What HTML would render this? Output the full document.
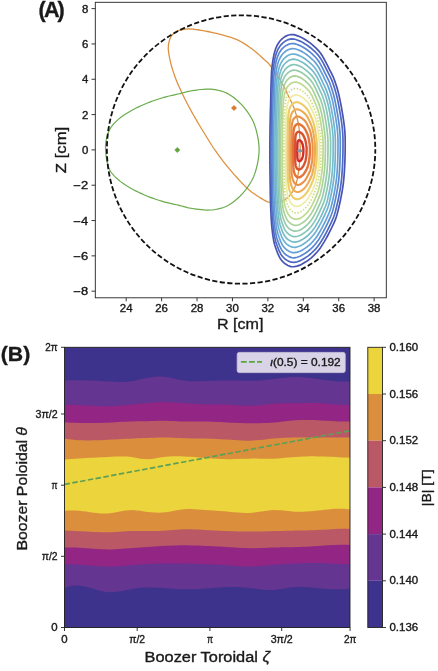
<!DOCTYPE html>
<html><head><meta charset="utf-8"><style>
html,body{margin:0;padding:0;background:#fff;}
svg{display:block;will-change:transform;}
</style></head><body>
<svg width="438" height="671" viewBox="0 0 438 671">
<rect width="438" height="671" fill="#fff"/>
<!-- Panel A -->
<path d="M169.3 41L169.48 40.4L169.67 39.8L169.88 39.2L170.1 38.61L170.34 38.03L170.6 37.47L170.89 36.92L171.2 36.4L171.54 35.89L171.91 35.4L172.31 34.92L172.73 34.45L173.16 34L173.61 33.58L174.05 33.18L174.5 32.8L174.94 32.45L175.37 32.13L175.8 31.83L176.25 31.55L176.71 31.29L177.2 31.05L177.73 30.82L178.3 30.6L178.92 30.4L179.58 30.21L180.29 30.04L181.01 29.89L181.76 29.75L182.51 29.62L183.26 29.5L184 29.4L184.7 29.3L185.36 29.2L186 29.12L186.66 29.04L187.36 28.99L188.13 28.96L189 28.96L190 29L191.09 29.06L192.23 29.14L193.45 29.24L194.74 29.38L196.14 29.54L197.66 29.75L199.3 30L201.1 30.3L203.09 30.66L205.29 31.06L207.63 31.51L210.09 32L212.6 32.53L215.12 33.09L217.6 33.68L220 34.3L222.35 34.94L224.73 35.59L227.11 36.27L229.48 36.98L231.82 37.74L234.12 38.56L236.35 39.44L238.5 40.4L240.59 41.46L242.64 42.62L244.65 43.86L246.61 45.16L248.5 46.47L250.31 47.79L252.05 49.07L253.7 50.3L255.26 51.51L256.74 52.72L258.14 53.94L259.47 55.14L260.73 56.32L261.91 57.44L263.04 58.51L264.1 59.5L265.03 60.33L265.81 60.98L266.48 61.53L267.11 62.06L267.74 62.64L268.42 63.35L269.23 64.28L270.2 65.5L271.37 67.05L272.71 68.88L274.15 70.92L275.66 73.09L277.18 75.34L278.66 77.58L280.05 79.76L281.3 81.8L282.42 83.74L283.47 85.66L284.45 87.56L285.38 89.44L286.26 91.29L287.12 93.12L287.96 94.92L288.8 96.7L289.63 98.42L290.43 100.06L291.21 101.67L291.96 103.26L292.69 104.86L293.39 106.49L294.06 108.2L294.7 110L295.32 111.9L295.92 113.88L296.5 115.92L297.04 118.01L297.55 120.11L298.02 122.23L298.44 124.33L298.8 126.4L299.1 128.51L299.33 130.7L299.51 132.92L299.64 135.13L299.75 137.27L299.84 139.29L299.92 141.15L300 142.8L300.08 144.18L300.14 145.32L300.18 146.27L300.21 147.12L300.23 147.93L300.23 148.77L300.22 149.7L300.2 150.8L300.17 152.06L300.12 153.4L300.06 154.82L299.98 156.28L299.9 157.75L299.8 159.21L299.7 160.64L299.6 162L299.5 163.29L299.39 164.54L299.29 165.75L299.17 166.95L299.04 168.16L298.89 169.39L298.71 170.66L298.5 172L298.27 173.42L298.02 174.93L297.74 176.49L297.45 178.06L297.13 179.63L296.78 181.16L296.41 182.63L296 184L295.56 185.29L295.08 186.54L294.58 187.74L294.05 188.89L293.49 189.99L292.92 191.05L292.32 192.05L291.7 193L291.06 193.89L290.4 194.73L289.72 195.51L289.02 196.25L288.29 196.94L287.55 197.59L286.78 198.21L286 198.8L285.21 199.36L284.41 199.9L283.61 200.4L282.77 200.87L281.91 201.29L281 201.65L280.03 201.96L279 202.2L277.88 202.39L276.66 202.52L275.39 202.61L274.07 202.64L272.74 202.61L271.41 202.52L270.13 202.35L268.9 202.1L267.75 201.77L266.65 201.37L265.58 200.89L264.53 200.35L263.47 199.74L262.37 199.08L261.22 198.36L260 197.6L258.7 196.79L257.35 195.94L255.95 195.03L254.52 194.06L253.06 193.03L251.58 191.93L250.09 190.76L248.6 189.5L247.09 188.14L245.56 186.68L244 185.13L242.42 183.51L240.85 181.85L239.28 180.17L237.73 178.48L236.2 176.8L234.69 175.12L233.17 173.41L231.66 171.68L230.16 169.93L228.68 168.17L227.22 166.4L225.79 164.65L224.4 162.9L223.04 161.16L221.7 159.43L220.4 157.69L219.11 155.96L217.85 154.22L216.61 152.48L215.4 150.74L214.2 149L213.03 147.25L211.89 145.5L210.78 143.75L209.69 142L208.61 140.25L207.54 138.5L206.47 136.75L205.4 135L204.32 133.25L203.24 131.49L202.17 129.73L201.1 127.97L200.04 126.22L199.01 124.49L197.99 122.78L197 121.1L196.04 119.46L195.11 117.87L194.21 116.3L193.32 114.75L192.44 113.2L191.56 111.63L190.69 110.04L189.8 108.4L188.9 106.72L188 105.01L187.1 103.28L186.19 101.53L185.3 99.77L184.42 98.01L183.55 96.25L182.7 94.5L181.87 92.76L181.04 91.04L180.23 89.31L179.43 87.58L178.64 85.84L177.87 84.09L177.12 82.31L176.4 80.5L175.69 78.64L174.98 76.74L174.29 74.8L173.62 72.86L172.98 70.91L172.38 68.99L171.81 67.12L171.3 65.3L170.83 63.5L170.4 61.67L170 59.85L169.64 58.07L169.32 56.37L169.04 54.77L168.8 53.3L168.6 52L168.45 50.89L168.35 49.96L168.29 49.17L168.28 48.48L168.28 47.86L168.31 47.26L168.36 46.65L168.4 46L168.45 45.32L168.52 44.67L168.61 44.03L168.72 43.41L168.84 42.8L168.98 42.2L169.13 41.6Z" fill="none" stroke="#de9240" stroke-width="1.3"/>
<path d="M105.5 147.6L105.55 145.55L105.71 143.56L105.95 141.63L106.28 139.77L106.68 137.97L107.14 136.24L107.65 134.58L108.2 133L108.78 131.52L109.39 130.16L110.05 128.88L110.77 127.66L111.57 126.48L112.46 125.31L113.47 124.13L114.6 122.9L115.86 121.64L117.22 120.37L118.69 119.11L120.26 117.84L121.92 116.59L123.66 115.34L125.49 114.11L127.4 112.9L129.42 111.69L131.59 110.48L133.86 109.26L136.21 108.07L138.6 106.9L141 105.78L143.38 104.71L145.7 103.7L147.99 102.76L150.31 101.86L152.62 101.02L154.94 100.21L157.23 99.45L159.5 98.73L161.73 98.05L163.9 97.4L166.04 96.8L168.16 96.25L170.26 95.75L172.32 95.29L174.33 94.85L176.29 94.43L178.18 94.01L180 93.6L181.68 93.18L183.2 92.78L184.62 92.39L186 92.01L187.4 91.65L188.88 91.31L190.49 90.99L192.3 90.7L194.33 90.41L196.54 90.09L198.87 89.78L201.29 89.51L203.74 89.28L206.17 89.14L208.54 89.11L210.8 89.2L212.97 89.4L215.12 89.68L217.23 90.05L219.31 90.5L221.36 91.05L223.38 91.72L225.36 92.5L227.3 93.4L229.22 94.45L231.12 95.66L233 96.99L234.84 98.42L236.63 99.93L238.36 101.5L240.02 103.1L241.6 104.7L243.11 106.34L244.58 108.06L245.98 109.84L247.32 111.66L248.59 113.5L249.78 115.35L250.89 117.19L251.9 119L252.81 120.78L253.61 122.55L254.33 124.31L254.96 126.08L255.54 127.86L256.06 129.67L256.54 131.51L257 133.4L257.43 135.34L257.83 137.32L258.19 139.34L258.5 141.39L258.75 143.45L258.94 145.51L259.06 147.56L259.1 149.6L259.06 151.64L258.94 153.69L258.75 155.75L258.5 157.81L258.19 159.86L257.83 161.88L257.43 163.86L257 165.8L256.54 167.69L256.06 169.53L255.54 171.34L254.96 173.12L254.33 174.89L253.61 176.65L252.81 178.42L251.9 180.2L250.89 182.01L249.78 183.85L248.59 185.7L247.33 187.54L245.98 189.36L244.58 191.14L243.11 192.86L241.6 194.5L240.02 196.1L238.36 197.7L236.63 199.27L234.84 200.78L233 202.21L231.12 203.54L229.22 204.75L227.3 205.8L225.36 206.7L223.38 207.48L221.36 208.15L219.31 208.7L217.23 209.15L215.12 209.52L212.97 209.8L210.8 210L208.54 210.09L206.17 210.06L203.74 209.92L201.29 209.69L198.87 209.42L196.54 209.11L194.33 208.79L192.3 208.5L190.49 208.21L188.88 207.89L187.4 207.55L186 207.19L184.62 206.81L183.2 206.42L181.68 206.02L180 205.6L178.18 205.19L176.29 204.77L174.33 204.35L172.32 203.91L170.26 203.45L168.16 202.95L166.04 202.4L163.9 201.8L161.73 201.15L159.5 200.47L157.23 199.75L154.94 198.99L152.62 198.18L150.31 197.34L147.99 196.44L145.7 195.5L143.38 194.49L141 193.42L138.6 192.3L136.21 191.13L133.86 189.94L131.59 188.72L129.42 187.51L127.4 186.3L125.49 185.09L123.66 183.86L121.92 182.61L120.26 181.36L118.69 180.09L117.22 178.83L115.86 177.56L114.6 176.3L113.47 175.1L112.46 173.98L111.57 172.89L110.77 171.79L110.05 170.61L109.39 169.33L108.78 167.87L108.2 166.2L107.65 164.25L107.14 162.05L106.68 159.67L106.28 157.18L105.95 154.66L105.71 152.17L105.55 149.79Z" fill="none" stroke="#6aab4a" stroke-width="1.2"/>
<g fill="none" stroke-width="1.8" stroke-linejoin="round">
<path d="M269.9 150.7L269.94 149.91L269.89 149.12L269.86 148.33L269.85 147.53L269.86 146.73L269.89 145.93L269.94 145.13L269.93 144.31L269.89 143.47L269.87 142.63L269.88 141.78L269.91 140.92L269.96 140.06L269.97 139.17L269.93 138.24L269.91 137.31L269.93 136.36L269.97 135.4L270.05 134.44L270 133.38L269.98 132.3L270 131.21L270.05 130.11L270.1 128.98L270.06 127.73L270.07 126.46L270.12 125.18L270.16 123.83L270.15 122.37L270.19 120.89L270.23 119.33L270.24 117.65L270.32 115.95L270.33 114.06L270.41 112.14L270.44 110.01L270.51 107.8L270.6 105.42L270.67 102.83L270.74 100.03L270.8 96.92L270.83 93.45L270.91 89.72L271.03 85.64L271.18 81.11L271.34 76.03L271.63 70.59L272.22 65.22L273 59.56L274.08 53.97L275.57 48.94L277.47 44.72L279.71 41.25L282.26 38.69L284.98 36.61L287.86 35.22L290.86 34.51L293.92 34.68L296.99 35.6L300 36.8L302.97 38.24L305.84 39.97L308.62 41.87L311.3 43.93L313.87 46.1L316.32 48.35L318.64 50.79L320.79 53.57L322.75 56.58L324.53 59.77L326.18 62.93L327.72 65.97L329.17 68.89L330.57 71.6L331.92 74.18L333.13 76.79L334.21 79.48L335.17 82.16L336.04 84.77L336.85 87.32L337.57 89.81L338.23 92.23L338.83 94.59L339.35 96.9L339.83 99.15L340.27 101.31L340.68 103.39L341.07 105.4L341.42 107.35L341.76 109.23L342.07 111.05L342.37 112.81L342.66 114.51L342.93 116.17L343.19 117.79L343.43 119.36L343.66 120.9L343.86 122.41L344.04 123.9L344.22 125.35L344.38 126.77L344.53 128.17L344.66 129.54L344.79 130.9L344.89 132.23L344.98 133.55L345.05 134.86L345.1 136.15L345.14 137.42L345.17 138.68L345.18 139.93L345.19 141.16L345.2 142.38L345.19 143.59L345.2 144.79L345.19 145.98L345.19 147.17L345.18 148.35L345.17 149.53L345.16 150.7L345.13 151.87L345.12 153.05L345.09 154.22L345.06 155.4L345.03 156.59L344.99 157.78L344.96 158.98L344.92 160.18L344.87 161.4L344.83 162.63L344.77 163.87L344.72 165.13L344.66 166.41L344.59 167.7L344.52 169.02L344.45 170.35L344.36 171.71L344.26 173.1L344.16 174.51L344.05 175.96L343.93 177.43L343.79 178.94L343.63 180.48L343.46 182.06L343.27 183.67L343.05 185.32L342.8 187.01L342.54 188.74L342.26 190.52L341.94 192.35L341.6 194.23L341.23 196.18L340.84 198.19L340.43 200.28L339.98 202.45L339.49 204.68L338.95 206.98L338.36 209.37L337.73 211.85L337.04 214.42L336.26 217.03L335.36 219.63L334.32 222.15L333.16 224.66L331.93 227.25L330.63 229.94L329.24 232.69L327.75 235.52L326.17 238.44L324.47 241.41L322.64 244.37L320.7 247.4L318.59 250.3L316.3 252.94L313.88 255.43L311.33 257.79L308.66 259.95L305.86 261.84L302.98 263.59L300 265.15L296.98 266.17L293.92 266.76L290.88 266.59L287.94 265.47L285.11 263.78L282.47 261.41L280.07 258.24L278.01 254.13L276.28 249.51L274.74 244.97L273.56 239.97L272.74 234.58L272.11 229.45L271.63 224.6L271.28 220.03L271.06 215.7L270.89 211.72L270.74 208.13L270.59 204.87L270.49 201.82L270.41 198.99L270.35 196.35L270.31 193.9L270.28 191.6L270.23 189.5L270.22 187.48L270.17 185.62L270.18 183.82L270.12 182.19L270.13 180.57L270.09 179.08L270.06 177.66L270.08 176.26L270.06 174.95L270 173.72L269.99 172.5L270.03 171.3L270.01 170.18L269.95 169.11L269.93 168.06L269.94 167.02L269.99 165.99L269.96 165.03L269.91 164.1L269.88 163.18L269.88 162.26L269.91 161.35L269.97 160.46L269.91 159.61L269.87 158.77L269.85 157.94L269.85 157.11L269.88 156.28L269.92 155.46L269.91 154.66L269.87 153.87L269.84 153.07L269.84 152.28L269.86 151.49Z" stroke="#4854b2" stroke-width="1.7"/><path d="M271.03 150.7L271.08 149.94L271.03 149.18L271 148.42L270.99 147.65L271 146.88L271.03 146.11L271.08 145.34L271.06 144.55L271.02 143.74L271.01 142.93L271.01 142.11L271.04 141.29L271.1 140.47L271.11 139.61L271.06 138.71L271.05 137.81L271.06 136.9L271.11 135.98L271.18 135.05L271.14 134.04L271.11 133L271.13 131.95L271.18 130.89L271.23 129.8L271.19 128.6L271.2 127.38L271.25 126.15L271.29 124.85L271.27 123.44L271.32 122.02L271.36 120.52L271.37 118.9L271.44 117.26L271.45 115.44L271.53 113.59L271.56 111.55L271.63 109.42L271.71 107.13L271.77 104.64L271.85 101.94L271.9 98.95L271.93 95.61L272.01 92.02L272.13 88.1L272.26 83.74L272.42 78.85L272.7 73.61L273.27 68.44L274.02 63L275.06 57.62L276.49 52.78L278.32 48.72L280.48 45.38L282.93 42.92L285.55 40.92L288.32 39.58L291.2 38.9L294.15 39.06L297.1 39.94L300 41.1L302.82 42.49L305.56 44.15L308.2 45.98L310.75 47.96L313.19 50.05L315.53 52.21L317.74 54.57L319.78 57.24L321.64 60.13L323.34 63.21L324.9 66.24L326.37 69.17L327.75 71.98L329.08 74.59L330.36 77.07L331.52 79.58L332.54 82.17L333.45 84.74L334.29 87.26L335.05 89.71L335.74 92.11L336.37 94.44L336.94 96.71L337.44 98.93L337.89 101.1L338.31 103.18L338.7 105.18L339.07 107.11L339.41 108.99L339.73 110.79L340.03 112.54L340.31 114.24L340.59 115.88L340.84 117.47L341.09 119.03L341.32 120.54L341.53 122.03L341.72 123.48L341.89 124.91L342.06 126.3L342.22 127.67L342.36 129.02L342.49 130.34L342.61 131.64L342.7 132.93L342.79 134.2L342.86 135.45L342.91 136.7L342.94 137.92L342.97 139.13L342.98 140.33L342.99 141.52L343 142.69L342.99 143.86L343 145.01L342.99 146.16L342.99 147.3L342.99 148.44L342.97 149.57L342.96 150.7L342.93 151.83L342.92 152.96L342.89 154.09L342.86 155.23L342.84 156.37L342.8 157.51L342.77 158.66L342.73 159.82L342.69 160.99L342.65 162.18L342.59 163.37L342.54 164.59L342.49 165.81L342.42 167.06L342.36 168.33L342.28 169.61L342.2 170.92L342.11 172.25L342.01 173.62L341.91 175.01L341.79 176.42L341.66 177.88L341.51 179.36L341.35 180.88L341.16 182.43L340.95 184.01L340.72 185.64L340.47 187.3L340.2 189.02L339.9 190.78L339.57 192.59L339.23 194.46L338.85 196.4L338.46 198.41L338.04 200.49L337.57 202.64L337.05 204.86L336.5 207.15L335.9 209.54L335.24 212.01L334.5 214.53L333.64 217.02L332.65 219.45L331.54 221.87L330.37 224.36L329.14 226.95L327.81 229.6L326.4 232.32L324.89 235.13L323.28 237.98L321.54 240.84L319.69 243.75L317.68 246.54L315.51 249.08L313.21 251.47L310.78 253.75L308.24 255.83L305.58 257.65L302.83 259.33L300 260.83L297.09 261.81L294.15 262.38L291.22 262.22L288.39 261.14L285.68 259.51L283.13 257.23L280.82 254.18L278.84 250.23L277.17 245.78L275.69 241.41L274.56 236.6L273.77 231.42L273.17 226.47L272.7 221.81L272.37 217.42L272.15 213.25L271.99 209.42L271.84 205.97L271.7 202.82L271.6 199.89L271.53 197.16L271.47 194.63L271.43 192.26L271.4 190.06L271.35 188.03L271.34 186.09L271.3 184.31L271.3 182.57L271.25 181L271.26 179.44L271.22 178.01L271.19 176.64L271.21 175.29L271.19 174.03L271.14 172.85L271.13 171.68L271.16 170.52L271.14 169.44L271.09 168.42L271.06 167.41L271.08 166.4L271.12 165.42L271.09 164.49L271.04 163.59L271.02 162.7L271.02 161.82L271.05 160.95L271.1 160.09L271.05 159.28L271.01 158.47L270.99 157.67L270.99 156.87L271.01 156.07L271.06 155.28L271.05 154.51L271.01 153.75L270.98 152.98L270.98 152.22L271 151.46Z" stroke="#4e69c3" stroke-width="1.7"/><path d="M272.22 150.7L272.26 149.97L272.21 149.24L272.19 148.51L272.18 147.78L272.19 147.04L272.22 146.3L272.27 145.56L272.25 144.8L272.21 144.03L272.2 143.25L272.2 142.47L272.23 141.68L272.28 140.89L272.29 140.06L272.25 139.21L272.24 138.34L272.25 137.47L272.29 136.58L272.36 135.69L272.32 134.72L272.3 133.73L272.31 132.72L272.36 131.7L272.41 130.66L272.38 129.5L272.38 128.34L272.43 127.15L272.47 125.91L272.45 124.56L272.49 123.19L272.53 121.76L272.54 120.2L272.61 118.63L272.62 116.89L272.7 115.12L272.72 113.16L272.79 111.11L272.87 108.92L272.93 106.53L273 103.94L273.05 101.07L273.08 97.87L273.16 94.43L273.27 90.67L273.4 86.49L273.55 81.8L273.82 76.78L274.37 71.82L275.09 66.6L276.08 61.44L277.46 56.8L279.21 52.9L281.28 49.7L283.63 47.35L286.14 45.43L288.8 44.14L291.56 43.49L294.39 43.64L297.22 44.49L300 45.6L302.64 46.93L305.21 48.53L307.69 50.28L310.07 52.18L312.36 54.18L314.55 56.26L316.62 58.51L318.53 61.07L320.29 63.85L321.87 66.8L323.34 69.71L324.71 72.52L326.01 75.21L327.26 77.71L328.46 80.09L329.54 82.5L330.5 84.98L331.35 87.45L332.14 89.87L332.85 92.22L333.5 94.51L334.09 96.75L334.62 98.93L335.09 101.06L335.51 103.13L335.9 105.13L336.27 107.05L336.62 108.9L336.93 110.7L337.23 112.43L337.51 114.11L337.78 115.73L338.04 117.31L338.28 118.84L338.51 120.33L338.73 121.78L338.92 123.2L339.1 124.6L339.26 125.97L339.42 127.31L339.57 128.62L339.7 129.91L339.82 131.18L339.93 132.43L340.02 133.66L340.1 134.88L340.17 136.08L340.21 137.27L340.25 138.45L340.27 139.61L340.28 140.76L340.29 141.9L340.3 143.02L340.29 144.14L340.3 145.25L340.29 146.35L340.29 147.44L340.29 148.53L340.27 149.62L340.26 150.7L340.24 151.78L340.22 152.87L340.2 153.95L340.17 155.04L340.15 156.13L340.11 157.23L340.08 158.34L340.05 159.45L340.01 160.57L339.97 161.71L339.92 162.85L339.87 164.02L339.82 165.19L339.76 166.39L339.7 167.6L339.63 168.84L339.55 170.09L339.46 171.37L339.38 172.67L339.28 174.01L339.16 175.37L339.04 176.76L338.9 178.18L338.75 179.64L338.58 181.12L338.38 182.65L338.16 184.2L337.93 185.8L337.67 187.45L337.39 189.14L337.09 190.87L336.76 192.67L336.41 194.52L336.04 196.45L335.65 198.45L335.21 200.51L334.72 202.63L334.2 204.84L333.64 207.13L333.03 209.49L332.33 211.91L331.53 214.3L330.6 216.63L329.56 218.95L328.47 221.34L327.31 223.82L326.07 226.36L324.74 228.97L323.33 231.66L321.82 234.4L320.19 237.14L318.45 239.93L316.57 242.6L314.54 245.04L312.38 247.34L310.1 249.52L307.72 251.51L305.23 253.25L302.65 254.87L300 256.31L297.21 257.24L294.39 257.8L291.58 257.64L288.87 256.6L286.26 255.04L283.82 252.85L281.61 249.94L279.71 246.14L278.11 241.88L276.69 237.69L275.6 233.07L274.85 228.1L274.27 223.36L273.82 218.89L273.5 214.68L273.29 210.68L273.14 207.01L273 203.7L272.86 200.68L272.77 197.87L272.7 195.26L272.64 192.82L272.61 190.56L272.58 188.44L272.53 186.5L272.52 184.64L272.48 182.93L272.48 181.26L272.43 179.75L272.44 178.26L272.4 176.89L272.37 175.58L272.39 174.28L272.37 173.08L272.32 171.94L272.31 170.82L272.34 169.71L272.32 168.67L272.27 167.69L272.25 166.72L272.26 165.76L272.31 164.81L272.28 163.92L272.23 163.06L272.21 162.21L272.21 161.37L272.24 160.53L272.29 159.7L272.24 158.92L272.2 158.15L272.18 157.38L272.18 156.61L272.2 155.85L272.25 155.1L272.24 154.35L272.2 153.62L272.17 152.89L272.17 152.16L272.19 151.43Z" stroke="#5a87d2" stroke-width="1.7"/><path d="M273.54 150.7L273.58 150.01L273.54 149.31L273.51 148.62L273.5 147.91L273.51 147.21L273.54 146.51L273.59 145.8L273.57 145.08L273.53 144.35L273.52 143.6L273.53 142.86L273.55 142.11L273.6 141.35L273.61 140.57L273.57 139.75L273.56 138.93L273.57 138.09L273.61 137.25L273.67 136.41L273.64 135.48L273.62 134.53L273.63 133.58L273.68 132.61L273.72 131.61L273.69 130.51L273.7 129.4L273.74 128.27L273.78 127.09L273.76 125.8L273.8 124.5L273.84 123.13L273.85 121.66L273.92 120.16L273.92 118.5L273.99 116.81L274.02 114.94L274.09 113L274.16 110.91L274.22 108.63L274.29 106.17L274.34 103.43L274.36 100.39L274.44 97.11L274.54 93.53L274.67 89.54L274.81 85.08L275.07 80.29L275.59 75.57L276.27 70.6L277.22 65.69L278.53 61.27L280.2 57.56L282.17 54.51L284.41 52.26L286.8 50.43L289.33 49.21L291.96 48.59L294.66 48.73L297.35 49.54L300 50.6L302.49 51.87L304.91 53.39L307.25 55.06L309.5 56.87L311.66 58.78L313.72 60.75L315.67 62.9L317.48 65.34L319.13 67.98L320.62 70.79L322.01 73.57L323.3 76.24L324.52 78.8L325.7 81.19L326.83 83.45L327.86 85.74L328.76 88.11L329.56 90.46L330.3 92.76L330.98 95L331.59 97.18L332.14 99.32L332.64 101.39L333.09 103.42L333.48 105.4L333.85 107.3L334.2 109.12L334.53 110.89L334.82 112.6L335.11 114.25L335.37 115.85L335.62 117.4L335.87 118.9L336.1 120.35L336.31 121.77L336.52 123.16L336.7 124.51L336.87 125.84L337.02 127.15L337.17 128.42L337.31 129.67L337.44 130.9L337.55 132.11L337.65 133.3L337.74 134.47L337.81 135.63L337.87 136.78L337.92 137.91L337.95 139.03L337.97 140.14L337.98 141.23L337.99 142.32L338 143.39L337.99 144.45L338 145.51L337.99 146.55L337.99 147.6L337.99 148.63L337.97 149.67L337.97 150.7L337.94 151.73L337.93 152.76L337.91 153.8L337.88 154.83L337.86 155.87L337.82 156.92L337.8 157.97L337.76 159.03L337.72 160.1L337.69 161.18L337.64 162.27L337.6 163.38L337.55 164.5L337.49 165.64L337.43 166.8L337.37 167.97L337.29 169.17L337.21 170.38L337.13 171.63L337.03 172.9L336.93 174.19L336.81 175.52L336.68 176.88L336.54 178.26L336.37 179.68L336.19 181.13L335.98 182.61L335.76 184.13L335.52 185.7L335.26 187.31L334.97 188.96L334.66 190.67L334.33 192.44L333.99 194.27L333.61 196.18L333.2 198.14L332.74 200.16L332.25 202.26L331.72 204.44L331.14 206.7L330.49 209L329.73 211.27L328.85 213.49L327.88 215.7L326.84 217.98L325.75 220.34L324.58 222.76L323.33 225.24L322 227.81L320.57 230.42L319.04 233.02L317.4 235.69L315.63 238.23L313.71 240.55L311.67 242.74L309.53 244.82L307.28 246.71L304.93 248.38L302.5 249.91L300 251.29L297.34 252.18L294.65 252.7L291.98 252.55L289.4 251.56L286.92 250.08L284.59 247.99L282.48 245.21L280.68 241.6L279.15 237.54L277.8 233.55L276.76 229.15L276.05 224.42L275.49 219.91L275.07 215.65L274.76 211.63L274.57 207.83L274.42 204.33L274.28 201.18L274.15 198.3L274.06 195.63L274 193.14L273.95 190.82L273.91 188.66L273.88 186.65L273.84 184.8L273.83 183.02L273.79 181.39L273.79 179.81L273.74 178.37L273.75 176.95L273.72 175.64L273.69 174.39L273.7 173.16L273.68 172.01L273.64 170.93L273.63 169.86L273.66 168.8L273.64 167.82L273.59 166.88L273.57 165.96L273.58 165.04L273.62 164.14L273.6 163.29L273.55 162.48L273.53 161.66L273.53 160.86L273.56 160.06L273.61 159.28L273.56 158.53L273.52 157.8L273.5 157.06L273.5 156.33L273.53 155.61L273.57 154.89L273.56 154.18L273.52 153.48L273.5 152.79L273.49 152.09L273.51 151.39Z" stroke="#64a0d7" stroke-width="1.7"/><path d="M274.94 150.7L274.98 150.04L274.94 149.39L274.91 148.73L274.9 148.06L274.91 147.4L274.94 146.73L274.98 146.06L274.97 145.38L274.94 144.68L274.92 143.98L274.93 143.27L274.95 142.56L275 141.85L275.01 141.11L274.97 140.33L274.96 139.55L274.97 138.76L275.01 137.97L275.07 137.16L275.03 136.29L275.01 135.39L275.03 134.48L275.07 133.57L275.12 132.62L275.08 131.58L275.09 130.53L275.13 129.46L275.16 128.34L275.15 127.12L275.19 125.89L275.23 124.59L275.23 123.19L275.3 121.78L275.3 120.2L275.37 118.6L275.4 116.84L275.46 114.99L275.53 113.01L275.58 110.86L275.65 108.52L275.69 105.94L275.72 103.05L275.79 99.95L275.89 96.55L276.01 92.78L276.14 88.56L276.39 84.02L276.88 79.55L277.53 74.84L278.43 70.19L279.67 66.01L281.25 62.49L283.12 59.6L285.23 57.48L287.5 55.74L289.9 54.58L292.39 54L294.94 54.13L297.49 54.9L300 55.9L302.32 57.1L304.58 58.54L306.75 60.12L308.85 61.84L310.86 63.64L312.78 65.51L314.6 67.55L316.28 69.86L317.82 72.36L319.21 75.02L320.5 77.65L321.71 80.18L322.85 82.61L323.94 84.87L325 87.01L325.95 89.18L326.79 91.42L327.54 93.65L328.23 95.83L328.86 97.95L329.43 100.02L329.94 102.04L330.41 104L330.82 105.93L331.19 107.79L331.54 109.59L331.86 111.33L332.16 113L332.44 114.62L332.7 116.18L332.95 117.7L333.19 119.16L333.41 120.58L333.63 121.96L333.83 123.3L334.02 124.61L334.19 125.9L334.35 127.16L334.49 128.39L334.63 129.6L334.76 130.78L334.87 131.95L334.98 133.09L335.08 134.22L335.16 135.33L335.22 136.43L335.28 137.51L335.32 138.59L335.35 139.65L335.38 140.7L335.38 141.73L335.4 142.76L335.4 143.78L335.39 144.78L335.4 145.78L335.39 146.77L335.39 147.76L335.39 148.74L335.38 149.72L335.37 150.7L335.35 151.68L335.33 152.65L335.31 153.63L335.29 154.61L335.27 155.6L335.23 156.59L335.21 157.59L335.18 158.59L335.14 159.6L335.11 160.63L335.06 161.66L335.03 162.71L334.98 163.77L334.92 164.85L334.87 165.95L334.81 167.06L334.74 168.19L334.67 169.34L334.59 170.52L334.5 171.72L334.4 172.95L334.29 174.21L334.17 175.49L334.04 176.8L333.89 178.14L333.71 179.51L333.52 180.92L333.32 182.36L333.09 183.85L332.85 185.37L332.58 186.93L332.29 188.55L331.99 190.23L331.66 191.97L331.31 193.77L330.93 195.63L330.5 197.54L330.05 199.53L329.55 201.6L329.01 203.73L328.4 205.91L327.69 208.07L326.88 210.17L325.97 212.26L325.01 214.42L323.99 216.65L322.9 218.94L321.73 221.3L320.49 223.73L319.17 226.2L317.73 228.67L316.21 231.19L314.56 233.59L312.77 235.79L310.87 237.87L308.88 239.84L306.78 241.63L304.59 243.2L302.33 244.66L300 245.96L297.48 246.8L294.94 247.3L292.41 247.16L289.96 246.22L287.61 244.81L285.41 242.84L283.41 240.21L281.7 236.79L280.26 232.94L278.98 229.16L277.99 225L277.32 220.52L276.79 216.24L276.39 212.21L276.1 208.41L275.91 204.8L275.78 201.49L275.64 198.5L275.52 195.78L275.44 193.25L275.37 190.89L275.33 188.7L275.29 186.65L275.27 184.74L275.22 182.99L275.21 181.31L275.17 179.77L275.18 178.27L275.13 176.91L275.14 175.56L275.11 174.32L275.08 173.14L275.09 171.97L275.08 170.88L275.03 169.86L275.03 168.85L275.05 167.85L275.04 166.91L274.99 166.03L274.97 165.15L274.98 164.28L275.02 163.43L275 162.63L274.95 161.85L274.93 161.08L274.93 160.32L274.96 159.57L275 158.82L274.96 158.12L274.92 157.42L274.9 156.72L274.91 156.03L274.93 155.35L274.97 154.66L274.96 154L274.92 153.34L274.9 152.68L274.9 152.02L274.91 151.36Z" stroke="#6eb2d4" stroke-width="1.7"/><path d="M276.29 150.7L276.33 150.08L276.29 149.46L276.26 148.83L276.25 148.2L276.26 147.57L276.29 146.94L276.33 146.31L276.32 145.67L276.28 145.01L276.27 144.34L276.28 143.67L276.3 143L276.35 142.32L276.35 141.62L276.32 140.89L276.31 140.15L276.32 139.4L276.35 138.65L276.41 137.89L276.38 137.06L276.36 136.21L276.37 135.35L276.41 134.49L276.45 133.59L276.42 132.61L276.43 131.61L276.47 130.6L276.5 129.54L276.49 128.39L276.52 127.22L276.56 126L276.57 124.67L276.63 123.33L276.63 121.84L276.7 120.33L276.72 118.66L276.78 116.91L276.84 115.04L276.9 113L276.96 110.79L277 108.34L277.03 105.61L277.09 102.68L277.19 99.47L277.3 95.9L277.43 91.9L277.66 87.61L278.13 83.38L278.74 78.92L279.59 74.52L280.76 70.56L282.26 67.23L284.02 64.5L286.03 62.49L288.17 60.85L290.44 59.75L292.8 59.2L295.21 59.33L297.63 60.05L300 61L302.18 62.14L304.29 63.5L306.33 64.99L308.3 66.62L310.18 68.33L311.99 70.1L313.69 72.02L315.27 74.21L316.71 76.58L318.02 79.09L319.23 81.58L320.36 83.98L321.43 86.27L322.46 88.41L323.44 90.44L324.34 92.49L325.12 94.61L325.83 96.72L326.47 98.78L327.06 100.79L327.6 102.74L328.08 104.65L328.52 106.52L328.91 108.33L329.25 110.1L329.58 111.81L329.88 113.44L330.16 115.03L330.43 116.56L330.67 118.04L330.9 119.47L331.12 120.86L331.34 122.2L331.54 123.51L331.72 124.78L331.9 126.02L332.07 127.23L332.21 128.42L332.35 129.59L332.48 130.73L332.6 131.85L332.71 132.95L332.8 134.04L332.9 135.1L332.97 136.16L333.04 137.2L333.09 138.22L333.13 139.24L333.16 140.24L333.18 141.23L333.18 142.22L333.2 143.19L333.2 144.15L333.2 145.1L333.2 146.05L333.19 146.98L333.19 147.92L333.19 148.85L333.18 149.77L333.17 150.7L333.15 151.62L333.14 152.55L333.12 153.48L333.09 154.4L333.07 155.34L333.04 156.27L333.02 157.22L332.99 158.17L332.96 159.13L332.93 160.09L332.88 161.07L332.85 162.07L332.8 163.07L332.75 164.09L332.7 165.12L332.65 166.18L332.58 167.25L332.51 168.34L332.44 169.45L332.36 170.59L332.26 171.75L332.16 172.94L332.05 174.16L331.92 175.4L331.78 176.67L331.62 177.96L331.44 179.29L331.25 180.66L331.04 182.06L330.81 183.5L330.55 184.99L330.29 186.52L330 188.1L329.69 189.75L329.37 191.45L329.01 193.21L328.61 195.02L328.18 196.9L327.72 198.86L327.21 200.88L326.64 202.94L325.97 204.98L325.21 206.97L324.35 208.95L323.45 210.99L322.5 213.1L321.47 215.27L320.38 217.5L319.22 219.8L317.98 222.14L316.63 224.47L315.2 226.86L313.65 229.14L311.98 231.21L310.2 233.18L308.32 235.04L306.36 236.74L304.31 238.23L302.19 239.61L300 240.84L297.62 241.63L295.21 242.1L292.82 241.97L290.5 241.08L288.28 239.75L286.19 237.88L284.3 235.39L282.69 232.16L281.32 228.52L280.11 224.94L279.18 221L278.54 216.76L278.04 212.72L277.66 208.9L277.38 205.3L277.21 201.89L277.08 198.76L276.95 195.93L276.84 193.36L276.76 190.96L276.7 188.73L276.65 186.65L276.62 184.72L276.6 182.91L276.55 181.25L276.55 179.66L276.51 178.2L276.51 176.79L276.47 175.5L276.48 174.22L276.45 173.05L276.42 171.93L276.43 170.83L276.42 169.8L276.38 168.83L276.37 167.87L276.4 166.92L276.38 166.04L276.34 165.2L276.32 164.37L276.33 163.55L276.36 162.74L276.34 161.98L276.3 161.25L276.28 160.53L276.28 159.8L276.3 159.09L276.35 158.38L276.31 157.72L276.27 157.06L276.25 156.4L276.26 155.75L276.28 155.1L276.31 154.45L276.31 153.82L276.27 153.19L276.25 152.57L276.25 151.94L276.26 151.32Z" stroke="#78bcc8" stroke-width="1.7"/><path d="M277.69 150.7L277.73 150.12L277.69 149.53L277.66 148.94L277.66 148.35L277.67 147.76L277.69 147.17L277.73 146.57L277.71 145.96L277.69 145.34L277.67 144.72L277.68 144.09L277.7 143.45L277.74 142.82L277.75 142.16L277.72 141.47L277.71 140.77L277.72 140.07L277.75 139.36L277.8 138.65L277.77 137.87L277.76 137.07L277.77 136.26L277.8 135.45L277.85 134.6L277.82 133.68L277.82 132.74L277.86 131.79L277.89 130.79L277.88 129.71L277.91 128.61L277.94 127.46L277.95 126.21L278.01 124.95L278.01 123.55L278.07 122.12L278.1 120.55L278.15 118.91L278.21 117.15L278.26 115.23L278.32 113.15L278.36 110.85L278.38 108.28L278.45 105.51L278.54 102.49L278.64 99.14L278.76 95.37L278.98 91.34L279.42 87.36L280 83.16L280.79 79.02L281.9 75.3L283.31 72.17L284.97 69.6L286.85 67.7L288.87 66.16L291.01 65.13L293.22 64.6L295.49 64.73L297.77 65.41L300 66.3L302.01 67.37L303.96 68.65L305.84 70.06L307.65 71.59L309.39 73.19L311.05 74.86L312.62 76.67L314.07 78.73L315.4 80.96L316.61 83.32L317.72 85.66L318.77 87.92L319.75 90.08L320.7 92.09L321.61 94L322.43 95.93L323.16 97.92L323.81 99.91L324.4 101.85L324.94 103.73L325.44 105.58L325.88 107.38L326.28 109.13L326.64 110.84L326.96 112.5L327.26 114.1L327.54 115.65L327.8 117.13L328.04 118.58L328.27 119.97L328.48 121.32L328.69 122.62L328.88 123.88L329.07 125.11L329.24 126.31L329.4 127.48L329.55 128.62L329.69 129.74L329.81 130.84L329.93 131.91L330.05 132.97L330.15 134L330.24 135.02L330.32 136.03L330.39 137.02L330.45 137.99L330.5 138.96L330.53 139.92L330.56 140.86L330.58 141.79L330.59 142.72L330.6 143.63L330.6 144.54L330.6 145.43L330.6 146.32L330.59 147.2L330.6 148.08L330.59 148.96L330.58 149.83L330.57 150.7L330.55 151.57L330.54 152.44L330.52 153.31L330.5 154.19L330.48 155.06L330.45 155.94L330.44 156.83L330.41 157.73L330.38 158.63L330.35 159.54L330.31 160.46L330.28 161.39L330.24 162.34L330.19 163.3L330.14 164.27L330.09 165.26L330.03 166.27L329.97 167.3L329.9 168.35L329.82 169.42L329.74 170.51L329.64 171.63L329.54 172.77L329.42 173.94L329.29 175.13L329.14 176.35L328.98 177.6L328.8 178.89L328.61 180.21L328.39 181.57L328.16 182.96L327.91 184.4L327.65 185.89L327.37 187.44L327.07 189.05L326.73 190.7L326.37 192.4L325.97 194.17L325.54 196.01L325.08 197.91L324.55 199.85L323.94 201.77L323.23 203.65L322.45 205.51L321.61 207.43L320.73 209.42L319.79 211.46L318.79 213.55L317.72 215.71L316.57 217.91L315.33 220.11L314.01 222.36L312.58 224.5L311.04 226.46L309.4 228.3L307.67 230.06L305.86 231.65L303.97 233.06L302.02 234.35L300 235.51L297.76 236.26L295.49 236.7L293.24 236.58L291.06 235.74L288.97 234.49L287.01 232.73L285.23 230.39L283.71 227.34L282.42 223.92L281.28 220.55L280.41 216.85L279.8 212.86L279.34 209.05L278.98 205.46L278.72 202.08L278.55 198.87L278.43 195.92L278.32 193.26L278.21 190.84L278.13 188.58L278.07 186.48L278.03 184.53L278 182.71L277.98 181.01L277.94 179.45L277.93 177.95L277.9 176.58L277.9 175.24L277.86 174.03L277.87 172.83L277.84 171.73L277.81 170.68L277.83 169.64L277.81 168.67L277.77 167.76L277.77 166.85L277.79 165.96L277.78 165.13L277.73 164.34L277.72 163.56L277.73 162.79L277.76 162.03L277.74 161.32L277.7 160.63L277.68 159.94L277.68 159.27L277.7 158.6L277.75 157.93L277.71 157.3L277.67 156.68L277.66 156.06L277.66 155.45L277.68 154.84L277.71 154.23L277.71 153.63L277.67 153.05L277.65 152.46L277.65 151.87L277.66 151.28Z" stroke="#87c6b9" stroke-width="1.7"/><path d="M279.12 150.7L279.15 150.15L279.11 149.61L279.09 149.05L279.09 148.5L279.09 147.95L279.12 147.39L279.15 146.84L279.14 146.27L279.11 145.69L279.1 145.1L279.11 144.51L279.13 143.92L279.17 143.32L279.17 142.71L279.14 142.06L279.13 141.41L279.14 140.75L279.17 140.09L279.22 139.42L279.19 138.69L279.18 137.94L279.19 137.19L279.22 136.42L279.26 135.63L279.24 134.77L279.24 133.89L279.28 133L279.3 132.07L279.29 131.05L279.32 130.02L279.35 128.94L279.36 127.78L279.41 126.6L279.42 125.29L279.48 123.95L279.5 122.48L279.55 120.94L279.61 119.3L279.65 117.5L279.71 115.55L279.75 113.4L279.77 110.99L279.83 108.41L279.91 105.58L280.01 102.44L280.12 98.91L280.32 95.13L280.74 91.41L281.28 87.49L282.02 83.61L283.06 80.12L284.38 77.19L285.93 74.78L287.7 73.01L289.58 71.57L291.58 70.6L293.66 70.11L295.78 70.23L297.91 70.87L300 71.7L301.84 72.7L303.62 73.9L305.34 75.22L307 76.65L308.59 78.15L310.11 79.71L311.55 81.41L312.88 83.33L314.09 85.42L315.2 87.63L316.22 89.82L317.17 91.94L318.07 93.96L318.94 95.84L319.77 97.62L320.53 99.44L321.19 101.3L321.78 103.16L322.33 104.97L322.82 106.74L323.28 108.46L323.68 110.15L324.05 111.79L324.38 113.39L324.67 114.95L324.95 116.45L325.2 117.89L325.44 119.28L325.66 120.63L325.87 121.94L326.06 123.2L326.25 124.42L326.43 125.6L326.6 126.75L326.76 127.87L326.91 128.96L327.04 130.03L327.17 131.08L327.28 132.11L327.39 133.11L327.49 134.1L327.58 135.07L327.67 136.03L327.74 136.96L327.81 137.89L327.86 138.81L327.91 139.71L327.94 140.61L327.96 141.49L327.98 142.36L327.99 143.23L328 144.08L328 144.93L328 145.77L328 146.6L327.99 147.43L328 148.25L327.99 149.07L327.98 149.89L327.97 150.7L327.96 151.51L327.95 152.33L327.93 153.14L327.91 153.96L327.89 154.78L327.87 155.61L327.85 156.44L327.82 157.28L327.8 158.12L327.77 158.97L327.73 159.84L327.7 160.71L327.67 161.59L327.62 162.49L327.58 163.4L327.53 164.33L327.48 165.27L327.42 166.24L327.36 167.22L327.29 168.22L327.21 169.24L327.13 170.29L327.03 171.36L326.92 172.45L326.8 173.57L326.67 174.71L326.52 175.88L326.35 177.08L326.18 178.32L325.98 179.59L325.77 180.9L325.54 182.24L325.3 183.64L325.04 185.09L324.77 186.59L324.46 188.14L324.13 189.74L323.76 191.39L323.37 193.12L322.95 194.89L322.46 196.71L321.91 198.51L321.26 200.26L320.54 202L319.78 203.8L318.97 205.66L318.11 207.57L317.19 209.53L316.21 211.56L315.16 213.61L314.03 215.67L312.82 217.77L311.51 219.78L310.1 221.61L308.6 223.34L307.02 224.98L305.36 226.48L303.63 227.79L301.84 229L300 230.08L297.9 230.79L295.78 231.2L293.67 231.08L291.63 230.3L289.67 229.13L287.84 227.48L286.18 225.29L284.75 222.44L283.55 219.23L282.48 216.08L281.66 212.62L281.1 208.88L280.66 205.32L280.32 201.96L280.08 198.79L279.93 195.79L279.81 193.02L279.7 190.54L279.6 188.27L279.53 186.16L279.48 184.19L279.44 182.36L279.41 180.66L279.39 179.07L279.35 177.61L279.34 176.21L279.31 174.92L279.31 173.67L279.28 172.54L279.28 171.42L279.26 170.38L279.23 169.4L279.25 168.43L279.23 167.52L279.19 166.66L279.19 165.82L279.21 164.99L279.2 164.21L279.16 163.47L279.14 162.74L279.15 162.02L279.18 161.31L279.16 160.64L279.13 159.99L279.11 159.35L279.11 158.72L279.13 158.09L279.17 157.47L279.13 156.88L279.1 156.3L279.09 155.72L279.09 155.14L279.11 154.57L279.14 154L279.13 153.45L279.1 152.9L279.08 152.35L279.08 151.8L279.09 151.25Z" stroke="#96ccaa" stroke-width="1.7"/><path d="M280.63 150.7L280.66 150.19L280.62 149.68L280.6 149.17L280.6 148.66L280.6 148.15L280.62 147.63L280.66 147.12L280.65 146.59L280.62 146.05L280.61 145.5L280.61 144.96L280.63 144.41L280.67 143.86L280.68 143.28L280.65 142.68L280.64 142.08L280.65 141.47L280.68 140.85L280.72 140.23L280.7 139.55L280.68 138.86L280.69 138.16L280.72 137.45L280.76 136.72L280.73 135.92L280.74 135.1L280.77 134.28L280.8 133.41L280.79 132.47L280.82 131.52L280.84 130.51L280.85 129.43L280.9 128.34L280.9 127.12L280.96 125.88L280.98 124.52L281.02 123.09L281.08 121.56L281.12 119.89L281.17 118.09L281.21 116.09L281.23 113.86L281.28 111.46L281.36 108.83L281.45 105.92L281.56 102.65L281.74 99.14L282.13 95.69L282.63 92.05L283.32 88.45L284.28 85.21L285.5 82.49L286.95 80.26L288.58 78.62L290.33 77.28L292.19 76.38L294.12 75.93L296.09 76.03L298.06 76.63L300 77.4L301.67 78.33L303.28 79.44L304.85 80.66L306.35 81.99L307.79 83.39L309.17 84.83L310.48 86.41L311.68 88.19L312.79 90.13L313.79 92.18L314.71 94.22L315.58 96.18L316.39 98.05L317.18 99.8L317.93 101.45L318.62 103.13L319.22 104.86L319.76 106.59L320.25 108.27L320.71 109.91L321.11 111.51L321.48 113.07L321.82 114.59L322.12 116.08L322.38 117.52L322.63 118.92L322.86 120.26L323.08 121.55L323.28 122.8L323.47 124.01L323.64 125.18L323.81 126.31L323.97 127.41L324.13 128.48L324.27 129.52L324.41 130.53L324.53 131.52L324.64 132.5L324.75 133.45L324.85 134.38L324.94 135.3L325.02 136.2L325.1 137.08L325.17 137.96L325.23 138.82L325.27 139.67L325.32 140.5L325.34 141.33L325.37 142.15L325.38 142.96L325.39 143.77L325.4 144.56L325.4 145.35L325.4 146.13L325.4 146.9L325.4 147.66L325.4 148.43L325.39 149.19L325.38 149.94L325.38 150.7L325.36 151.46L325.35 152.21L325.34 152.97L325.32 153.73L325.3 154.49L325.28 155.25L325.26 156.03L325.24 156.8L325.21 157.59L325.19 158.38L325.16 159.18L325.13 159.99L325.1 160.81L325.06 161.64L325.02 162.49L324.98 163.35L324.93 164.22L324.87 165.11L324.82 166.03L324.75 166.96L324.68 167.9L324.61 168.87L324.52 169.87L324.42 170.88L324.31 171.92L324.19 172.98L324.05 174.07L323.91 175.18L323.75 176.33L323.57 177.51L323.38 178.72L323.17 179.97L322.95 181.26L322.72 182.61L322.47 184L322.19 185.44L321.89 186.92L321.56 188.46L321.2 190.05L320.81 191.7L320.38 193.39L319.87 195.06L319.28 196.68L318.63 198.3L317.94 199.96L317.21 201.7L316.43 203.47L315.59 205.29L314.71 207.16L313.75 209.07L312.72 210.98L311.63 212.93L310.44 214.79L309.16 216.49L307.8 218.1L306.37 219.62L304.87 221.01L303.3 222.22L301.67 223.35L300 224.36L298.05 225.01L296.09 225.39L294.13 225.28L292.24 224.56L290.42 223.47L288.72 221.94L287.17 219.91L285.85 217.26L284.73 214.29L283.74 211.37L282.98 208.15L282.46 204.68L282.05 201.38L281.74 198.26L281.52 195.32L281.37 192.53L281.27 189.97L281.17 187.66L281.07 185.56L281.01 183.6L280.96 181.77L280.92 180.08L280.89 178.5L280.87 177.02L280.84 175.67L280.83 174.37L280.8 173.18L280.81 172.02L280.77 170.96L280.78 169.92L280.75 168.96L280.73 168.05L280.74 167.15L280.73 166.31L280.7 165.51L280.69 164.73L280.71 163.96L280.7 163.23L280.66 162.55L280.65 161.87L280.66 161.2L280.69 160.54L280.67 159.92L280.63 159.32L280.62 158.73L280.62 158.14L280.64 157.56L280.67 156.98L280.64 156.44L280.61 155.9L280.6 155.36L280.6 154.82L280.61 154.29L280.64 153.77L280.64 153.25L280.61 152.74L280.59 152.23L280.59 151.72L280.6 151.21Z" stroke="#aad29b" stroke-width="1.7"/><path d="M282.21 150.7L282.24 150.23L282.21 149.77L282.19 149.3L282.18 148.83L282.19 148.36L282.21 147.88L282.24 147.41L282.23 146.92L282.21 146.43L282.2 145.93L282.2 145.43L282.22 144.92L282.25 144.42L282.26 143.89L282.23 143.34L282.22 142.79L282.23 142.23L282.26 141.66L282.3 141.09L282.28 140.47L282.26 139.83L282.27 139.19L282.3 138.54L282.33 137.86L282.31 137.13L282.32 136.38L282.35 135.62L282.37 134.82L282.36 133.96L282.39 133.09L282.41 132.17L282.42 131.17L282.46 130.17L282.47 129.05L282.52 127.91L282.53 126.66L282.58 125.35L282.63 123.95L282.67 122.41L282.71 120.76L282.75 118.92L282.76 116.87L282.81 114.67L282.89 112.26L282.97 109.58L283.06 106.58L283.24 103.36L283.59 100.19L284.05 96.85L284.68 93.54L285.57 90.57L286.69 88.08L288.01 86.03L289.52 84.52L291.13 83.29L292.83 82.46L294.6 82.05L296.41 82.15L298.22 82.69L300 83.4L301.52 84.25L302.99 85.27L304.41 86.4L305.77 87.62L307.09 88.9L308.34 90.23L309.53 91.67L310.62 93.31L311.63 95.09L312.54 96.97L313.38 98.84L314.17 100.64L314.91 102.36L315.62 103.96L316.31 105.49L316.93 107.03L317.48 108.62L317.97 110.2L318.42 111.75L318.83 113.25L319.2 114.72L319.54 116.15L319.84 117.55L320.11 118.91L320.35 120.24L320.58 121.52L320.79 122.75L320.99 123.93L321.17 125.08L321.34 126.2L321.5 127.27L321.66 128.31L321.8 129.32L321.94 130.3L322.07 131.25L322.2 132.18L322.31 133.09L322.41 133.99L322.51 134.86L322.6 135.72L322.68 136.56L322.76 137.39L322.82 138.2L322.89 139L322.94 139.79L322.99 140.57L323.02 141.34L323.05 142.1L323.07 142.85L323.08 143.6L323.09 144.33L323.1 145.06L323.1 145.78L323.1 146.5L323.1 147.21L323.1 147.91L323.1 148.61L323.09 149.31L323.08 150.01L323.08 150.7L323.06 151.39L323.06 152.09L323.04 152.78L323.03 153.48L323.01 154.18L322.99 154.88L322.98 155.59L322.95 156.3L322.93 157.02L322.91 157.75L322.88 158.48L322.86 159.23L322.82 159.98L322.79 160.74L322.75 161.52L322.72 162.31L322.67 163.12L322.62 163.93L322.57 164.77L322.51 165.62L322.45 166.5L322.38 167.39L322.3 168.3L322.21 169.23L322.11 170.18L322 171.16L321.87 172.15L321.74 173.18L321.6 174.23L321.43 175.31L321.26 176.42L321.07 177.57L320.87 178.76L320.66 180L320.43 181.28L320.18 182.6L319.9 183.95L319.61 185.37L319.28 186.83L318.93 188.35L318.53 189.89L318.07 191.43L317.54 192.92L316.95 194.4L316.32 195.93L315.65 197.52L314.94 199.15L314.18 200.82L313.37 202.54L312.51 204.3L311.57 206.05L310.58 207.84L309.5 209.55L308.33 211.11L307.09 212.58L305.79 213.98L304.42 215.25L303 216.37L301.52 217.4L300 218.33L298.21 218.93L296.41 219.28L294.61 219.18L292.87 218.51L291.2 217.51L289.64 216.11L288.22 214.24L287.01 211.82L285.98 209.08L285.08 206.4L284.38 203.45L283.9 200.26L283.52 197.23L283.24 194.37L283.03 191.67L282.9 189.11L282.8 186.76L282.71 184.64L282.62 182.71L282.56 180.91L282.52 179.23L282.48 177.67L282.46 176.22L282.44 174.87L282.41 173.62L282.4 172.43L282.38 171.34L282.38 170.27L282.35 169.3L282.35 168.35L282.33 167.47L282.31 166.63L282.32 165.8L282.31 165.03L282.28 164.3L282.27 163.58L282.29 162.87L282.28 162.21L282.24 161.58L282.23 160.96L282.24 160.34L282.27 159.74L282.25 159.17L282.22 158.62L282.2 158.07L282.2 157.53L282.22 157L282.25 156.47L282.22 155.97L282.2 155.47L282.18 154.98L282.19 154.49L282.2 154L282.23 153.51L282.22 153.04L282.2 152.57L282.18 152.1L282.18 151.63L282.19 151.17Z" stroke="#beda91" stroke-width="1.7"/><path d="M283.85 150.7L283.87 150.28L283.85 149.85L283.83 149.43L283.83 149L283.83 148.57L283.85 148.14L283.88 147.71L283.87 147.27L283.85 146.82L283.84 146.37L283.84 145.91L283.86 145.46L283.89 144.99L283.89 144.52L283.87 144.02L283.86 143.51L283.87 143.01L283.89 142.49L283.93 141.98L283.91 141.41L283.9 140.83L283.9 140.25L283.93 139.66L283.96 139.05L283.94 138.38L283.94 137.7L283.97 137.01L283.99 136.29L283.99 135.5L284.01 134.71L284.03 133.87L284.04 132.97L284.08 132.06L284.08 131.04L284.13 130.01L284.14 128.87L284.18 127.69L284.23 126.41L284.26 125.02L284.31 123.52L284.34 121.85L284.35 119.99L284.4 117.99L284.46 115.8L284.54 113.37L284.63 110.65L284.78 107.72L285.1 104.84L285.52 101.81L286.1 98.81L286.89 96.11L287.92 93.85L289.12 91.99L290.48 90.62L291.94 89.5L293.49 88.75L295.09 88.37L296.74 88.46L298.38 88.96L300 89.6L301.38 90.37L302.71 91.3L304.01 92.32L305.25 93.43L306.44 94.59L307.58 95.8L308.66 97.11L309.66 98.6L310.57 100.21L311.4 101.92L312.16 103.62L312.88 105.25L313.55 106.81L314.2 108.27L314.83 109.65L315.39 111.05L315.89 112.49L316.34 113.93L316.75 115.33L317.12 116.7L317.46 118.03L317.76 119.34L318.04 120.6L318.28 121.84L318.5 123.05L318.71 124.21L318.9 125.32L319.08 126.4L319.24 127.44L319.4 128.45L319.55 129.43L319.69 130.37L319.82 131.29L319.95 132.18L320.07 133.04L320.18 133.89L320.28 134.72L320.38 135.53L320.46 136.32L320.54 137.1L320.62 137.86L320.69 138.61L320.75 139.35L320.81 140.08L320.86 140.79L320.9 141.5L320.93 142.2L320.95 142.89L320.97 143.58L320.99 144.25L320.99 144.92L321 145.58L321 146.24L321 146.89L321 147.53L321 148.17L321 148.81L320.99 149.44L320.99 150.07L320.98 150.7L320.97 151.33L320.96 151.96L320.95 152.59L320.93 153.22L320.92 153.86L320.9 154.5L320.89 155.14L320.87 155.79L320.85 156.44L320.83 157.1L320.8 157.77L320.78 158.44L320.75 159.13L320.72 159.82L320.69 160.53L320.65 161.24L320.61 161.97L320.56 162.72L320.52 163.48L320.47 164.25L320.41 165.04L320.34 165.85L320.27 166.68L320.19 167.52L320.1 168.39L320 169.27L319.89 170.18L319.76 171.11L319.63 172.06L319.49 173.04L319.33 174.05L319.16 175.1L318.97 176.18L318.78 177.3L318.58 178.46L318.35 179.66L318.09 180.89L317.82 182.17L317.53 183.5L317.21 184.88L316.85 186.28L316.43 187.67L315.94 189.03L315.4 190.38L314.83 191.77L314.23 193.21L313.58 194.68L312.89 196.2L312.16 197.77L311.37 199.36L310.52 200.95L309.62 202.57L308.64 204.13L307.58 205.54L306.45 206.88L305.27 208.15L304.02 209.31L302.72 210.32L301.38 211.26L300 212.1L298.38 212.64L296.74 212.96L295.11 212.87L293.53 212.27L292.01 211.36L290.59 210.09L289.31 208.39L288.21 206.19L287.27 203.71L286.45 201.27L285.81 198.59L285.38 195.7L285.04 192.94L284.78 190.34L284.59 187.89L284.47 185.57L284.39 183.43L284.3 181.51L284.22 179.76L284.17 178.12L284.13 176.6L284.1 175.19L284.07 173.87L284.06 172.64L284.03 171.51L284.02 170.43L284 169.43L284 168.47L283.97 167.59L283.98 166.72L283.96 165.92L283.94 165.16L283.95 164.41L283.94 163.71L283.91 163.05L283.9 162.39L283.92 161.75L283.91 161.15L283.88 160.58L283.87 160.01L283.88 159.45L283.9 158.9L283.88 158.39L283.86 157.89L283.84 157.39L283.84 156.9L283.86 156.42L283.89 155.93L283.86 155.48L283.84 155.03L283.83 154.58L283.83 154.14L283.84 153.69L283.87 153.26L283.86 152.82L283.84 152.4L283.82 151.97L283.82 151.55L283.83 151.12Z" stroke="#cdde82" stroke-width="1.7" stroke-dasharray="1.5 1.6"/><path d="M285.54 150.7L285.56 150.32L285.54 149.94L285.52 149.56L285.52 149.18L285.52 148.79L285.54 148.41L285.57 148.02L285.56 147.63L285.54 147.23L285.53 146.82L285.53 146.41L285.55 146L285.58 145.59L285.58 145.16L285.56 144.72L285.55 144.27L285.56 143.81L285.58 143.35L285.61 142.89L285.59 142.38L285.58 141.87L285.59 141.34L285.61 140.81L285.64 140.27L285.62 139.67L285.63 139.06L285.65 138.45L285.67 137.8L285.66 137.1L285.68 136.38L285.71 135.64L285.71 134.83L285.75 134.01L285.75 133.1L285.79 132.18L285.8 131.16L285.84 130.1L285.88 128.96L285.91 127.71L285.95 126.36L285.98 124.87L285.99 123.21L286.03 121.42L286.09 119.46L286.16 117.28L286.24 114.84L286.38 112.23L286.66 109.65L287.03 106.93L287.55 104.24L288.27 101.83L289.18 99.8L290.26 98.14L291.48 96.91L292.79 95.91L294.17 95.24L295.61 94.9L297.08 94.98L298.55 95.42L300 96L301.27 96.69L302.51 97.52L303.7 98.44L304.85 99.43L305.95 100.47L307.01 101.55L308 102.72L308.92 104.05L309.77 105.5L310.53 107.03L311.24 108.55L311.9 110.01L312.52 111.41L313.12 112.71L313.7 113.95L314.22 115.2L314.68 116.5L315.09 117.78L315.47 119.04L315.81 120.26L316.13 121.46L316.41 122.62L316.66 123.76L316.89 124.86L317.09 125.94L317.28 126.98L317.46 127.98L317.63 128.95L317.78 129.88L317.92 130.78L318.06 131.66L318.19 132.5L318.31 133.32L318.43 134.12L318.54 134.89L318.64 135.65L318.74 136.39L318.82 137.12L318.9 137.83L318.98 138.52L319.05 139.21L319.11 139.88L319.17 140.54L319.22 141.19L319.27 141.83L319.3 142.47L319.34 143.09L319.36 143.71L319.37 144.32L319.39 144.93L319.39 145.53L319.4 146.12L319.4 146.7L319.4 147.29L319.4 147.86L319.4 148.43L319.4 149L319.39 149.57L319.39 150.14L319.38 150.7L319.37 151.26L319.36 151.83L319.35 152.39L319.34 152.96L319.33 153.53L319.31 154.1L319.3 154.67L319.28 155.25L319.26 155.84L319.24 156.43L319.22 157.03L319.19 157.63L319.17 158.24L319.14 158.86L319.11 159.5L319.08 160.14L319.04 160.79L319 161.46L318.96 162.14L318.91 162.83L318.85 163.54L318.79 164.26L318.73 165L318.65 165.76L318.57 166.53L318.48 167.33L318.37 168.14L318.26 168.97L318.14 169.83L318 170.7L317.85 171.61L317.7 172.54L317.53 173.51L317.35 174.51L317.16 175.55L316.95 176.62L316.72 177.73L316.47 178.88L316.2 180.07L315.9 181.3L315.56 182.56L315.18 183.8L314.73 185.01L314.23 186.22L313.7 187.46L313.15 188.76L312.55 190.08L311.91 191.43L311.23 192.84L310.5 194.26L309.72 195.69L308.88 197.14L307.98 198.53L307 199.8L305.96 201L304.86 202.13L303.72 203.17L302.52 204.08L301.28 204.92L300 205.67L298.55 206.15L297.08 206.44L295.62 206.36L294.21 205.82L292.85 205L291.58 203.87L290.43 202.35L289.44 200.37L288.61 198.15L287.87 195.97L287.3 193.57L286.91 190.98L286.61 188.52L286.38 186.19L286.21 184L286.1 181.92L286.02 180L285.95 178.28L285.88 176.71L285.83 175.25L285.79 173.89L285.76 172.62L285.74 171.44L285.73 170.34L285.7 169.33L285.7 168.36L285.68 167.47L285.68 166.61L285.65 165.82L285.66 165.04L285.64 164.33L285.62 163.65L285.63 162.97L285.62 162.35L285.59 161.75L285.59 161.17L285.61 160.59L285.6 160.05L285.57 159.54L285.56 159.04L285.56 158.54L285.59 158.04L285.57 157.58L285.55 157.13L285.54 156.69L285.54 156.25L285.55 155.82L285.58 155.39L285.55 154.98L285.53 154.58L285.52 154.18L285.52 153.78L285.53 153.38L285.56 152.99L285.55 152.6L285.53 152.22L285.52 151.84L285.52 151.46L285.52 151.08Z" stroke="#eeeca0" stroke-width="1.7"/><path d="M287.42 150.7L287.44 150.37L287.42 150.04L287.4 149.71L287.4 149.38L287.4 149.04L287.42 148.71L287.44 148.37L287.43 148.03L287.42 147.68L287.41 147.33L287.41 146.97L287.42 146.61L287.45 146.25L287.45 145.88L287.43 145.49L287.43 145.1L287.43 144.71L287.45 144.31L287.48 143.9L287.46 143.46L287.45 143.01L287.46 142.56L287.48 142.1L287.51 141.62L287.49 141.1L287.49 140.57L287.51 140.04L287.53 139.47L287.52 138.86L287.54 138.24L287.56 137.59L287.56 136.89L287.6 136.18L287.6 135.39L287.63 134.58L287.65 133.7L287.68 132.77L287.71 131.78L287.74 130.69L287.77 129.52L287.8 128.22L287.81 126.77L287.84 125.22L287.9 123.51L287.95 121.62L288.02 119.5L288.14 117.22L288.39 114.98L288.72 112.61L289.17 110.27L289.79 108.17L290.59 106.41L291.52 104.96L292.59 103.89L293.72 103.02L294.93 102.44L296.18 102.14L297.46 102.21L298.74 102.6L300 103.1L301.12 103.7L302.2 104.43L303.24 105.22L304.25 106.08L305.21 106.99L306.14 107.93L307.01 108.95L307.82 110.11L308.56 111.37L309.23 112.7L309.85 114.02L310.43 115.29L310.97 116.51L311.5 117.64L312 118.72L312.46 119.81L312.86 120.94L313.23 122.05L313.56 123.15L313.86 124.21L314.13 125.25L314.38 126.27L314.6 127.25L314.8 128.22L314.98 129.16L315.15 130.06L315.3 130.93L315.45 131.77L315.58 132.58L315.71 133.37L315.82 134.13L315.94 134.86L316.05 135.58L316.15 136.27L316.24 136.94L316.34 137.6L316.42 138.25L316.49 138.88L316.56 139.5L316.63 140.1L316.69 140.7L316.75 141.28L316.8 141.86L316.84 142.42L316.88 142.98L316.92 143.53L316.94 144.08L316.96 144.62L316.98 145.15L316.99 145.68L316.99 146.2L317 146.71L317 147.22L317 147.73L317 148.23L317 148.73L317 149.22L316.99 149.72L316.99 150.21L316.98 150.7L316.97 151.19L316.97 151.68L316.96 152.17L316.95 152.67L316.94 153.16L316.92 153.66L316.91 154.16L316.89 154.66L316.88 155.17L316.86 155.69L316.84 156.2L316.82 156.73L316.8 157.26L316.77 157.8L316.75 158.35L316.72 158.91L316.68 159.48L316.65 160.06L316.61 160.65L316.57 161.26L316.52 161.87L316.47 162.5L316.41 163.15L316.35 163.81L316.27 164.48L316.19 165.17L316.1 165.87L316 166.6L315.89 167.34L315.77 168.11L315.65 168.89L315.51 169.71L315.36 170.55L315.2 171.42L315.04 172.33L314.85 173.26L314.65 174.22L314.43 175.22L314.19 176.26L313.93 177.33L313.64 178.42L313.3 179.5L312.91 180.56L312.47 181.61L312.01 182.69L311.52 183.82L311 184.97L310.44 186.15L309.84 187.37L309.2 188.61L308.52 189.85L307.78 191.11L306.99 192.32L306.13 193.43L305.22 194.47L304.26 195.46L303.26 196.36L302.21 197.15L301.12 197.88L300 198.53L298.74 198.95L297.46 199.2L296.19 199.13L294.96 198.66L293.78 197.96L292.67 196.96L291.67 195.64L290.81 193.93L290.09 191.99L289.44 190.1L288.95 188.01L288.61 185.76L288.35 183.61L288.14 181.58L288 179.67L287.91 177.87L287.84 176.2L287.77 174.7L287.71 173.34L287.67 172.06L287.63 170.88L287.61 169.78L287.59 168.75L287.58 167.79L287.56 166.91L287.55 166.07L287.53 165.3L287.54 164.54L287.51 163.86L287.52 163.18L287.5 162.56L287.49 161.97L287.49 161.38L287.49 160.83L287.46 160.32L287.46 159.81L287.47 159.31L287.47 158.84L287.44 158.4L287.43 157.96L287.44 157.52L287.46 157.09L287.45 156.69L287.42 156.3L287.41 155.91L287.41 155.53L287.43 155.15L287.45 154.78L287.43 154.42L287.41 154.07L287.4 153.73L287.4 153.38L287.41 153.03L287.43 152.69L287.43 152.36L287.41 152.02L287.4 151.69L287.4 151.36L287.4 151.03Z" stroke="#eecd69" stroke-width="2.1"/><path d="M289.27 150.7L289.29 150.42L289.27 150.14L289.26 149.85L289.25 149.57L289.26 149.29L289.27 149L289.29 148.71L289.28 148.42L289.27 148.12L289.26 147.82L289.26 147.52L289.27 147.21L289.29 146.91L289.3 146.59L289.28 146.26L289.28 145.93L289.28 145.59L289.3 145.25L289.32 144.9L289.31 144.53L289.3 144.14L289.3 143.75L289.32 143.36L289.34 142.96L289.33 142.51L289.33 142.06L289.35 141.6L289.36 141.12L289.36 140.6L289.37 140.07L289.39 139.52L289.39 138.92L289.42 138.31L289.42 137.64L289.45 136.95L289.46 136.2L289.49 135.41L289.52 134.56L289.54 133.64L289.57 132.64L289.59 131.53L289.6 130.29L289.63 128.96L289.68 127.51L289.73 125.9L289.78 124.09L289.89 122.14L290.1 120.23L290.38 118.21L290.76 116.22L291.29 114.43L291.97 112.92L292.77 111.69L293.68 110.77L294.65 110.03L295.67 109.54L296.74 109.28L297.83 109.34L298.93 109.67L300 110.1L300.98 110.61L301.94 111.23L302.86 111.91L303.75 112.64L304.6 113.42L305.42 114.22L306.19 115.09L306.9 116.08L307.55 117.15L308.14 118.29L308.69 119.41L309.2 120.5L309.68 121.54L310.15 122.51L310.59 123.42L311 124.35L311.35 125.31L311.67 126.27L311.96 127.2L312.23 128.11L312.47 128.99L312.69 129.86L312.88 130.7L313.06 131.52L313.22 132.32L313.36 133.1L313.5 133.84L313.63 134.55L313.75 135.25L313.86 135.92L313.96 136.57L314.06 137.19L314.16 137.8L314.25 138.39L314.33 138.97L314.41 139.53L314.49 140.08L314.55 140.62L314.61 141.15L314.67 141.66L314.73 142.17L314.78 142.67L314.82 143.16L314.86 143.64L314.9 144.12L314.93 144.59L314.95 145.05L314.97 145.51L314.98 145.97L314.99 146.42L314.99 146.86L315 147.3L315 147.73L315 148.17L315 148.59L315 149.02L315 149.44L314.99 149.86L314.99 150.28L314.99 150.7L314.98 151.12L314.97 151.54L314.96 151.96L314.95 152.38L314.94 152.8L314.93 153.22L314.92 153.65L314.91 154.08L314.89 154.51L314.88 154.95L314.86 155.39L314.84 155.84L314.82 156.3L314.8 156.76L314.78 157.23L314.75 157.71L314.72 158.19L314.69 158.68L314.66 159.19L314.62 159.7L314.58 160.23L314.53 160.77L314.48 161.32L314.42 161.88L314.36 162.45L314.29 163.04L314.2 163.64L314.12 164.26L314.02 164.9L313.92 165.55L313.8 166.22L313.68 166.91L313.55 167.63L313.42 168.37L313.27 169.15L313.1 169.94L312.92 170.76L312.73 171.61L312.52 172.5L312.29 173.41L312.03 174.34L311.73 175.27L311.39 176.17L311 177.06L310.6 177.99L310.16 178.95L309.7 179.93L309.21 180.93L308.68 181.97L308.12 183.03L307.51 184.09L306.87 185.17L306.17 186.2L305.41 187.14L304.61 188.03L303.76 188.87L302.87 189.64L301.95 190.32L300.99 190.94L300 191.5L298.92 191.86L297.83 192.07L296.75 192.01L295.7 191.61L294.69 191.01L293.75 190.16L292.9 189.03L292.16 187.57L291.54 185.92L291 184.3L290.57 182.52L290.28 180.6L290.06 178.77L289.89 177.04L289.76 175.41L289.68 173.87L289.63 172.45L289.57 171.17L289.52 170.01L289.48 168.92L289.45 167.91L289.43 166.97L289.42 166.1L289.41 165.28L289.39 164.53L289.38 163.81L289.37 163.15L289.37 162.51L289.35 161.92L289.35 161.35L289.34 160.82L289.33 160.31L289.33 159.81L289.33 159.34L289.31 158.9L289.3 158.47L289.32 158.04L289.31 157.64L289.29 157.26L289.28 156.89L289.29 156.52L289.3 156.15L289.29 155.81L289.27 155.48L289.26 155.15L289.26 154.82L289.27 154.5L289.29 154.18L289.28 153.88L289.26 153.58L289.25 153.28L289.25 152.98L289.26 152.69L289.28 152.4L289.28 152.11L289.26 151.83L289.25 151.55L289.25 151.26L289.26 150.98Z" stroke="#eeac55" stroke-width="2.1"/><path d="M291.12 150.7L291.13 150.47L291.12 150.23L291.11 150L291.11 149.77L291.11 149.53L291.12 149.29L291.13 149.06L291.13 148.81L291.12 148.57L291.11 148.32L291.11 148.07L291.12 147.82L291.14 147.56L291.14 147.3L291.13 147.03L291.13 146.75L291.13 146.47L291.14 146.19L291.16 145.9L291.15 145.59L291.14 145.27L291.15 144.95L291.16 144.63L291.18 144.29L291.17 143.92L291.17 143.55L291.19 143.17L291.2 142.77L291.19 142.34L291.21 141.91L291.22 141.45L291.22 140.95L291.24 140.45L291.25 139.89L291.27 139.32L291.28 138.7L291.3 138.04L291.33 137.34L291.35 136.58L291.37 135.75L291.39 134.83L291.39 133.81L291.42 132.71L291.46 131.51L291.5 130.17L291.55 128.67L291.63 127.07L291.81 125.48L292.04 123.81L292.35 122.16L292.79 120.68L293.35 119.44L294.02 118.41L294.77 117.66L295.57 117.04L296.42 116.63L297.3 116.42L298.21 116.47L299.11 116.75L300 117.1L300.83 117.53L301.64 118.04L302.42 118.6L303.17 119.2L303.9 119.84L304.59 120.51L305.24 121.23L305.84 122.05L306.39 122.94L306.89 123.88L307.36 124.81L307.79 125.71L308.2 126.57L308.59 127.37L308.97 128.13L309.31 128.9L309.61 129.69L309.88 130.48L310.13 131.25L310.35 132L310.56 132.74L310.74 133.45L310.91 134.15L311.06 134.83L311.19 135.49L311.31 136.13L311.43 136.74L311.54 137.34L311.64 137.91L311.73 138.47L311.82 139L311.91 139.52L311.99 140.02L312.06 140.51L312.14 140.99L312.2 141.45L312.27 141.91L312.32 142.36L312.37 142.79L312.42 143.22L312.47 143.64L312.51 144.05L312.55 144.46L312.58 144.86L312.61 145.25L312.64 145.64L312.66 146.03L312.67 146.41L312.68 146.78L312.69 147.15L312.69 147.52L312.7 147.89L312.7 148.25L312.7 148.6L312.7 148.96L312.7 149.31L312.7 149.66L312.7 150.01L312.69 150.35L312.69 150.7L312.68 151.05L312.68 151.39L312.67 151.74L312.66 152.09L312.65 152.44L312.64 152.79L312.63 153.14L312.62 153.5L312.61 153.86L312.6 154.22L312.58 154.59L312.57 154.96L312.55 155.33L312.53 155.71L312.51 156.1L312.49 156.5L312.46 156.9L312.44 157.31L312.41 157.73L312.38 158.15L312.34 158.59L312.3 159.03L312.26 159.49L312.21 159.95L312.16 160.43L312.09 160.91L312.03 161.41L311.95 161.92L311.87 162.45L311.78 162.99L311.69 163.54L311.59 164.12L311.47 164.71L311.36 165.33L311.23 165.97L311.1 166.62L310.94 167.3L310.78 168.01L310.6 168.74L310.41 169.5L310.19 170.27L309.94 171.03L309.64 171.78L309.32 172.52L308.97 173.28L308.61 174.08L308.21 174.89L307.8 175.72L307.35 176.58L306.88 177.46L306.36 178.33L305.82 179.23L305.22 180.08L304.58 180.86L303.9 181.59L303.18 182.29L302.43 182.93L301.65 183.49L300.84 184L300 184.46L299.11 184.76L298.21 184.94L297.31 184.89L296.44 184.56L295.61 184.06L294.83 183.36L294.12 182.42L293.51 181.21L293 179.85L292.55 178.51L292.2 177.03L291.96 175.44L291.77 173.93L291.63 172.5L291.53 171.15L291.46 169.88L291.41 168.7L291.37 167.64L291.32 166.68L291.29 165.78L291.27 164.94L291.25 164.17L291.24 163.44L291.23 162.77L291.22 162.15L291.21 161.55L291.2 161L291.2 160.47L291.19 159.99L291.19 159.51L291.18 159.07L291.17 158.65L291.17 158.24L291.17 157.85L291.15 157.49L291.15 157.13L291.16 156.78L291.15 156.45L291.14 156.13L291.13 155.82L291.13 155.51L291.15 155.21L291.14 154.93L291.12 154.65L291.11 154.38L291.12 154.11L291.12 153.84L291.14 153.58L291.12 153.33L291.11 153.08L291.11 152.84L291.11 152.59L291.11 152.35L291.13 152.11L291.12 151.87L291.11 151.63L291.1 151.4L291.1 151.17L291.11 150.93Z" stroke="#ea9146" stroke-width="2.1"/><path d="M293.08 150.7L293.09 150.52L293.07 150.34L293.07 150.15L293.06 149.97L293.07 149.79L293.07 149.6L293.09 149.42L293.08 149.23L293.07 149.04L293.07 148.84L293.07 148.65L293.08 148.45L293.09 148.25L293.09 148.05L293.08 147.83L293.08 147.62L293.08 147.4L293.09 147.18L293.11 146.96L293.1 146.72L293.09 146.47L293.1 146.22L293.11 145.96L293.12 145.7L293.11 145.42L293.12 145.12L293.13 144.83L293.14 144.52L293.13 144.18L293.14 143.84L293.15 143.48L293.16 143.1L293.17 142.71L293.17 142.27L293.19 141.83L293.2 141.34L293.22 140.83L293.24 140.28L293.25 139.69L293.27 139.04L293.28 138.33L293.29 137.53L293.31 136.67L293.34 135.74L293.37 134.69L293.41 133.53L293.47 132.27L293.61 131.04L293.79 129.74L294.04 128.45L294.38 127.29L294.82 126.32L295.33 125.52L295.92 124.94L296.55 124.46L297.21 124.14L297.9 123.97L298.6 124.01L299.31 124.22L300 124.5L300.65 124.83L301.28 125.23L301.89 125.67L302.47 126.14L303.04 126.64L303.57 127.16L304.08 127.72L304.55 128.36L304.98 129.05L305.37 129.78L305.73 130.51L306.07 131.21L306.39 131.88L306.7 132.51L306.99 133.1L307.26 133.7L307.49 134.32L307.7 134.93L307.89 135.53L308.07 136.12L308.23 136.69L308.37 137.25L308.5 137.79L308.62 138.33L308.72 138.84L308.82 139.34L308.91 139.82L308.99 140.28L309.07 140.73L309.15 141.16L309.22 141.58L309.28 141.98L309.34 142.38L309.4 142.76L309.46 143.13L309.51 143.49L309.56 143.85L309.61 144.19L309.65 144.53L309.68 144.87L309.72 145.19L309.75 145.52L309.78 145.83L309.81 146.14L309.83 146.45L309.85 146.76L309.87 147.06L309.88 147.35L309.89 147.65L309.89 147.94L309.9 148.22L309.9 148.51L309.9 148.79L309.9 149.06L309.9 149.34L309.9 149.61L309.9 149.89L309.9 150.16L309.89 150.43L309.89 150.7L309.88 150.97L309.88 151.24L309.88 151.51L309.87 151.78L309.86 152.05L309.85 152.33L309.85 152.6L309.84 152.88L309.83 153.16L309.82 153.44L309.81 153.73L309.8 154.02L309.78 154.31L309.77 154.61L309.75 154.91L309.74 155.22L309.72 155.53L309.69 155.85L309.67 156.18L309.65 156.51L309.62 156.85L309.59 157.2L309.56 157.55L309.52 157.91L309.48 158.28L309.43 158.66L309.37 159.05L309.32 159.45L309.26 159.86L309.19 160.28L309.11 160.71L309.03 161.16L308.95 161.62L308.85 162.1L308.76 162.6L308.65 163.12L308.53 163.65L308.4 164.2L308.26 164.77L308.11 165.36L307.94 165.96L307.75 166.55L307.52 167.14L307.26 167.71L306.99 168.31L306.71 168.93L306.4 169.56L306.08 170.21L305.73 170.88L305.36 171.57L304.96 172.25L304.53 172.94L304.07 173.61L303.57 174.22L303.04 174.79L302.48 175.33L301.9 175.83L301.28 176.27L300.65 176.67L300 177.03L299.3 177.26L298.6 177.4L297.9 177.36L297.23 177.1L296.58 176.71L295.97 176.17L295.42 175.44L294.94 174.49L294.54 173.43L294.19 172.38L293.92 171.23L293.73 170L293.59 168.81L293.47 167.7L293.39 166.65L293.34 165.65L293.31 164.74L293.27 163.91L293.23 163.16L293.21 162.46L293.19 161.81L293.18 161.2L293.17 160.64L293.16 160.11L293.15 159.62L293.15 159.16L293.14 158.73L293.14 158.32L293.13 157.94L293.13 157.57L293.12 157.23L293.11 156.9L293.12 156.58L293.11 156.28L293.1 155.99L293.1 155.71L293.11 155.44L293.1 155.18L293.09 154.94L293.08 154.69L293.09 154.45L293.1 154.22L293.09 154L293.08 153.78L293.07 153.57L293.07 153.36L293.08 153.15L293.09 152.94L293.08 152.75L293.07 152.56L293.06 152.37L293.06 152.17L293.07 151.98L293.08 151.8L293.08 151.61L293.07 151.43L293.06 151.25L293.06 151.06L293.07 150.88Z" stroke="#e47338" stroke-width="2.4"/><path d="M295.11 150.7L295.12 150.57L295.11 150.44L295.1 150.31L295.1 150.19L295.1 150.06L295.11 149.93L295.12 149.8L295.12 149.66L295.11 149.53L295.11 149.39L295.11 149.25L295.11 149.11L295.12 148.97L295.12 148.83L295.12 148.68L295.11 148.52L295.12 148.37L295.12 148.21L295.13 148.06L295.13 147.89L295.12 147.71L295.13 147.54L295.13 147.36L295.14 147.17L295.14 146.97L295.14 146.76L295.15 146.56L295.15 146.34L295.15 146.1L295.16 145.86L295.17 145.61L295.17 145.33L295.18 145.06L295.18 144.75L295.19 144.44L295.2 144.09L295.21 143.73L295.22 143.35L295.24 142.92L295.25 142.47L295.26 141.96L295.26 141.4L295.28 140.8L295.3 140.13L295.32 139.4L295.34 138.57L295.39 137.69L295.49 136.82L295.62 135.9L295.79 134.99L296.03 134.17L296.34 133.49L296.71 132.92L297.12 132.51L297.56 132.17L298.03 131.94L298.51 131.83L299.01 131.86L299.51 132L300 132.2L300.43 132.43L300.85 132.72L301.26 133.02L301.65 133.36L302.02 133.71L302.38 134.08L302.72 134.47L303.04 134.92L303.32 135.41L303.58 135.93L303.82 136.44L304.05 136.94L304.26 137.41L304.46 137.85L304.66 138.27L304.84 138.7L304.99 139.13L305.13 139.57L305.26 139.99L305.38 140.41L305.49 140.81L305.58 141.2L305.67 141.59L305.75 141.96L305.82 142.33L305.88 142.68L305.94 143.02L306 143.34L306.05 143.66L306.1 143.96L306.14 144.26L306.19 144.55L306.23 144.82L306.27 145.09L306.31 145.35L306.34 145.61L306.37 145.86L306.4 146.11L306.43 146.35L306.46 146.58L306.48 146.81L306.5 147.04L306.52 147.26L306.54 147.48L306.55 147.7L306.57 147.92L306.58 148.13L306.59 148.34L306.59 148.54L306.6 148.75L306.6 148.95L306.6 149.15L306.6 149.35L306.6 149.55L306.6 149.74L306.6 149.93L306.6 150.13L306.6 150.32L306.6 150.51L306.59 150.7L306.59 150.89L306.59 151.08L306.58 151.27L306.58 151.46L306.58 151.66L306.57 151.85L306.56 152.04L306.56 152.24L306.55 152.44L306.55 152.64L306.54 152.84L306.53 153.04L306.52 153.25L306.51 153.46L306.5 153.68L306.49 153.89L306.48 154.11L306.46 154.34L306.45 154.57L306.43 154.8L306.41 155.04L306.39 155.29L306.37 155.54L306.35 155.79L306.32 156.06L306.29 156.32L306.25 156.6L306.21 156.88L306.17 157.17L306.12 157.47L306.07 157.77L306.02 158.09L305.96 158.41L305.9 158.75L305.84 159.11L305.77 159.47L305.69 159.84L305.6 160.23L305.51 160.63L305.41 161.05L305.3 161.47L305.16 161.9L305.01 162.31L304.84 162.71L304.66 163.13L304.47 163.57L304.27 164.02L304.05 164.48L303.82 164.95L303.57 165.43L303.31 165.91L303.02 166.41L302.71 166.88L302.38 167.31L302.03 167.71L301.65 168.09L301.26 168.44L300.86 168.75L300.43 169.04L300 169.29L299.51 169.45L299.01 169.55L298.52 169.52L298.04 169.34L297.58 169.07L297.15 168.68L296.76 168.17L296.43 167.5L296.15 166.75L295.9 166.01L295.71 165.2L295.57 164.32L295.47 163.49L295.39 162.7L295.34 161.96L295.3 161.26L295.27 160.61L295.25 160.03L295.22 159.5L295.21 159L295.19 158.54L295.18 158.11L295.18 157.72L295.17 157.34L295.16 157L295.16 156.67L295.16 156.37L295.16 156.08L295.15 155.81L295.15 155.55L295.14 155.31L295.14 155.08L295.14 154.85L295.14 154.64L295.13 154.44L295.13 154.24L295.13 154.05L295.13 153.86L295.12 153.69L295.12 153.52L295.12 153.35L295.13 153.18L295.12 153.03L295.11 152.88L295.11 152.73L295.11 152.58L295.11 152.43L295.12 152.28L295.11 152.15L295.11 152.01L295.1 151.88L295.1 151.74L295.11 151.61L295.11 151.47L295.11 151.34L295.11 151.21L295.1 151.09L295.1 150.96L295.1 150.83Z" stroke="#da502e" stroke-width="2.4"/><path d="M297.28 150.7L297.28 150.63L297.28 150.56L297.27 150.49L297.27 150.41L297.27 150.34L297.28 150.27L297.28 150.2L297.28 150.12L297.28 150.05L297.28 149.97L297.28 149.89L297.28 149.82L297.28 149.74L297.28 149.66L297.28 149.57L297.28 149.49L297.28 149.4L297.28 149.32L297.29 149.23L297.29 149.13L297.29 149.04L297.29 148.94L297.29 148.84L297.3 148.74L297.29 148.62L297.29 148.51L297.3 148.39L297.3 148.27L297.3 148.14L297.3 148L297.31 147.86L297.31 147.71L297.32 147.56L297.32 147.39L297.32 147.21L297.33 147.02L297.33 146.82L297.34 146.61L297.35 146.37L297.35 146.12L297.36 145.84L297.36 145.52L297.37 145.19L297.38 144.82L297.39 144.41L297.41 143.95L297.43 143.46L297.49 142.97L297.56 142.46L297.66 141.95L297.79 141.5L297.96 141.12L298.17 140.8L298.4 140.57L298.64 140.38L298.9 140.26L299.17 140.19L299.45 140.21L299.73 140.29L300 140.4L300.22 140.53L300.44 140.69L300.65 140.86L300.85 141.05L301.04 141.24L301.23 141.44L301.4 141.67L301.56 141.92L301.71 142.19L301.85 142.48L301.97 142.76L302.09 143.04L302.19 143.3L302.3 143.55L302.4 143.78L302.49 144.02L302.57 144.26L302.65 144.5L302.71 144.74L302.77 144.97L302.83 145.19L302.88 145.41L302.92 145.63L302.96 145.84L303 146.04L303.03 146.23L303.06 146.42L303.09 146.6L303.12 146.78L303.14 146.95L303.16 147.11L303.19 147.27L303.21 147.43L303.23 147.58L303.25 147.72L303.27 147.87L303.28 148.01L303.3 148.14L303.31 148.28L303.33 148.41L303.34 148.54L303.35 148.66L303.36 148.79L303.37 148.91L303.38 149.03L303.38 149.15L303.39 149.27L303.39 149.38L303.4 149.5L303.4 149.61L303.4 149.73L303.4 149.84L303.4 149.95L303.4 150.06L303.4 150.17L303.4 150.27L303.4 150.38L303.4 150.49L303.4 150.59L303.4 150.7L303.39 150.81L303.39 150.91L303.39 151.02L303.39 151.13L303.39 151.23L303.38 151.34L303.38 151.45L303.38 151.56L303.38 151.67L303.37 151.78L303.37 151.89L303.36 152.01L303.36 152.12L303.35 152.24L303.35 152.36L303.34 152.48L303.34 152.6L303.33 152.73L303.32 152.85L303.31 152.98L303.3 153.12L303.29 153.25L303.28 153.39L303.27 153.54L303.25 153.68L303.24 153.83L303.22 153.98L303.2 154.14L303.18 154.3L303.15 154.47L303.13 154.64L303.1 154.81L303.07 154.99L303.04 155.18L303.01 155.38L302.97 155.58L302.93 155.79L302.89 156.01L302.84 156.23L302.79 156.46L302.73 156.7L302.66 156.93L302.58 157.16L302.49 157.39L302.4 157.62L302.3 157.87L302.2 158.11L302.09 158.37L301.97 158.63L301.84 158.9L301.7 159.17L301.56 159.44L301.4 159.71L301.23 159.95L301.04 160.17L300.85 160.38L300.65 160.58L300.44 160.75L300.22 160.91L300 161.05L299.73 161.14L299.45 161.2L299.18 161.18L298.91 161.08L298.65 160.93L298.41 160.71L298.2 160.43L298.01 160.05L297.85 159.64L297.72 159.22L297.61 158.77L297.54 158.29L297.48 157.82L297.43 157.38L297.4 156.97L297.38 156.58L297.37 156.22L297.35 155.89L297.34 155.6L297.33 155.32L297.32 155.07L297.32 154.83L297.32 154.61L297.31 154.4L297.31 154.21L297.31 154.03L297.3 153.86L297.3 153.7L297.3 153.55L297.3 153.4L297.3 153.27L297.29 153.14L297.29 153.01L297.29 152.89L297.29 152.78L297.29 152.67L297.29 152.56L297.29 152.46L297.28 152.37L297.28 152.27L297.28 152.18L297.29 152.08L297.28 152L297.28 151.91L297.28 151.83L297.28 151.75L297.28 151.66L297.28 151.58L297.28 151.51L297.28 151.43L297.27 151.35L297.27 151.28L297.28 151.2L297.28 151.13L297.28 151.06L297.28 150.99L297.27 150.91L297.27 150.84L297.27 150.77Z" stroke="#d22d28" stroke-width="2.4"/>
</g>
<ellipse cx="299.8" cy="150.7" rx="2.7" ry="1.7" fill="#7f9ba3"/>
<circle cx="241.1" cy="149.5" r="134.2" fill="none" stroke="#111" stroke-width="1.8" stroke-dasharray="5.2 2.4" stroke-dashoffset="1"/>
<path d="M234 105.4 L236.6 108 L234 110.6 L231.4 108 Z" fill="#d9782a" stroke="#d9782a" stroke-width="0.6" stroke-linejoin="round"/>
<path d="M177.3 147.4 L179.9 150 L177.3 152.6 L174.7 150 Z" fill="#62a33a" stroke="#62a33a" stroke-width="0.6" stroke-linejoin="round"/>
<rect x="95.3" y="2.3" width="291" height="295.5" fill="none" stroke="#222" stroke-width="0.9"/>
<!-- Panel B -->
<path d="M64.5 347.3L350 347.3L350 627.5L64.5 627.5Z" fill="#3e338c"/><path d="M64.5 380.4L68.11 380.3L71.73 380.25L75.34 380.23L78.96 380.25L82.57 380.3L86.18 380.38L89.8 380.49L93.41 380.63L97.03 380.79L100.64 380.97L104.25 381.17L107.87 381.39L111.48 381.61L115.09 381.82L118.71 381.98L122.32 382.02L125.94 381.9L129.55 381.58L133.16 381.02L136.78 380.27L140.39 379.43L144.01 378.58L147.62 377.82L151.23 377.21L154.85 376.79L158.46 376.6L162.08 376.65L165.69 377L169.3 377.59L172.92 378.34L176.53 379.15L180.15 379.92L183.76 380.55L187.37 380.97L190.99 381.23L194.6 381.33L198.22 381.33L201.83 381.24L205.44 381.11L209.06 380.96L212.67 380.8L216.28 380.65L219.9 380.53L223.51 380.44L227.13 380.4L230.74 380.42L234.35 380.49L237.97 380.59L241.58 380.7L245.2 380.78L248.81 380.82L252.42 380.78L256.04 380.66L259.65 380.46L263.27 380.19L266.88 379.86L270.49 379.47L274.11 379.04L277.72 378.57L281.34 378.11L284.95 377.68L288.56 377.33L292.18 377.09L295.79 377L299.41 377.08L303.02 377.3L306.63 377.64L310.25 378.07L313.86 378.55L317.47 379.06L321.09 379.56L324.7 380.03L328.32 380.47L331.93 380.85L335.54 381.17L339.16 381.4L342.77 381.55L346.39 381.58L350 381.5L350 627.5L64.5 627.5Z" fill="#653592"/><path d="M64.5 404.8L68.11 404.78L71.73 404.83L75.34 404.94L78.96 405.09L82.57 405.27L86.18 405.47L89.8 405.67L93.41 405.85L97.03 406.02L100.64 406.14L104.25 406.22L107.87 406.23L111.48 406.15L115.09 406L118.71 405.79L122.32 405.52L125.94 405.2L129.55 404.86L133.16 404.51L136.78 404.14L140.39 403.78L144.01 403.42L147.62 403.06L151.23 402.73L154.85 402.45L158.46 402.23L162.08 402.12L165.69 402.12L169.3 402.23L172.92 402.44L176.53 402.7L180.15 402.99L183.76 403.27L187.37 403.54L190.99 403.78L194.6 403.98L198.22 404.16L201.83 404.3L205.44 404.39L209.06 404.45L212.67 404.49L216.28 404.52L219.9 404.56L223.51 404.62L227.13 404.74L230.74 404.92L234.35 405.15L237.97 405.39L241.58 405.61L245.2 405.77L248.81 405.83L252.42 405.76L256.04 405.55L259.65 405.24L263.27 404.86L266.88 404.47L270.49 404.1L274.11 403.8L277.72 403.59L281.34 403.44L284.95 403.35L288.56 403.29L292.18 403.24L295.79 403.2L299.41 403.14L303.02 403.08L306.63 403.03L310.25 403.02L313.86 403.05L317.47 403.16L321.09 403.34L324.7 403.59L328.32 403.89L331.93 404.19L335.54 404.47L339.16 404.7L342.77 404.85L346.39 404.89L350 404.8L350 627.5L64.5 627.5Z" fill="#932585"/><path d="M64.5 422.2L68.11 422.44L71.73 422.65L75.34 422.82L78.96 422.95L82.57 423.04L86.18 423.09L89.8 423.11L93.41 423.1L97.03 423.05L100.64 422.96L104.25 422.84L107.87 422.69L111.48 422.51L115.09 422.3L118.71 422.08L122.32 421.87L125.94 421.68L129.55 421.52L133.16 421.42L136.78 421.35L140.39 421.3L144.01 421.25L147.62 421.16L151.23 421.05L154.85 420.93L158.46 420.84L162.08 420.79L165.69 420.83L169.3 420.94L172.92 421.1L176.53 421.27L180.15 421.42L183.76 421.52L187.37 421.56L190.99 421.55L194.6 421.51L198.22 421.48L201.83 421.47L205.44 421.5L209.06 421.59L212.67 421.73L216.28 421.91L219.9 422.12L223.51 422.33L227.13 422.53L230.74 422.71L234.35 422.85L237.97 422.97L241.58 423.07L245.2 423.13L248.81 423.18L252.42 423.21L256.04 423.21L259.65 423.18L263.27 423.1L266.88 422.97L270.49 422.77L274.11 422.49L277.72 422.14L281.34 421.75L284.95 421.34L288.56 420.94L292.18 420.58L295.79 420.29L299.41 420.1L303.02 419.99L306.63 419.96L310.25 420L313.86 420.1L317.47 420.25L321.09 420.44L324.7 420.65L328.32 420.87L331.93 421.09L335.54 421.28L339.16 421.43L342.77 421.53L346.39 421.56L350 421.5L350 627.5L64.5 627.5Z" fill="#bb5866"/><path d="M64.5 438.6L68.11 439.14L71.73 439.58L75.34 439.91L78.96 440.15L82.57 440.31L86.18 440.39L89.8 440.41L93.41 440.37L97.03 440.28L100.64 440.15L104.25 439.98L107.87 439.8L111.48 439.6L115.09 439.4L118.71 439.19L122.32 438.99L125.94 438.8L129.55 438.63L133.16 438.48L136.78 438.34L140.39 438.21L144.01 438.08L147.62 437.94L151.23 437.79L154.85 437.65L158.46 437.55L162.08 437.5L165.69 437.52L169.3 437.62L172.92 437.76L176.53 437.93L180.15 438.1L183.76 438.23L187.37 438.33L190.99 438.39L194.6 438.44L198.22 438.48L201.83 438.53L205.44 438.59L209.06 438.69L212.67 438.82L216.28 438.98L219.9 439.17L223.51 439.38L227.13 439.61L230.74 439.86L234.35 440.11L237.97 440.34L241.58 440.53L245.2 440.64L248.81 440.66L252.42 440.55L256.04 440.33L259.65 440.01L263.27 439.63L266.88 439.22L270.49 438.83L274.11 438.48L277.72 438.19L281.34 437.96L284.95 437.79L288.56 437.65L292.18 437.56L295.79 437.5L299.41 437.46L303.02 437.45L306.63 437.45L310.25 437.46L313.86 437.48L317.47 437.5L321.09 437.51L324.7 437.51L328.32 437.51L331.93 437.51L335.54 437.51L339.16 437.5L342.77 437.5L346.39 437.5L350 437.5L350 627.5L64.5 627.5Z" fill="#db8f3c"/><path d="M64.5 459.6L68.11 459.25L71.73 458.94L75.34 458.68L78.96 458.44L82.57 458.22L86.18 458.03L89.8 457.85L93.41 457.69L97.03 457.52L100.64 457.36L104.25 457.18L107.87 457L111.48 456.8L115.09 456.6L118.71 456.46L122.32 456.41L125.94 456.52L129.55 456.82L133.16 457.35L136.78 458.01L140.39 458.64L144.01 459.08L147.62 459.2L151.23 458.94L154.85 458.44L158.46 457.81L162.08 457.18L165.69 456.69L169.3 456.39L172.92 456.24L176.53 456.22L180.15 456.3L183.76 456.44L187.37 456.64L190.99 456.87L194.6 457.12L198.22 457.4L201.83 457.69L205.44 457.98L209.06 458.27L212.67 458.54L216.28 458.78L219.9 458.97L223.51 459.12L227.13 459.19L230.74 459.19L234.35 459.11L237.97 459L241.58 458.86L245.2 458.73L248.81 458.63L252.42 458.6L256.04 458.62L259.65 458.68L263.27 458.74L266.88 458.78L270.49 458.76L274.11 458.65L277.72 458.44L281.34 458.16L284.95 457.84L288.56 457.5L292.18 457.18L295.79 456.89L299.41 456.67L303.02 456.51L306.63 456.41L310.25 456.36L313.86 456.35L317.47 456.38L321.09 456.45L324.7 456.55L328.32 456.68L331.93 456.83L335.54 457L339.16 457.18L342.77 457.38L346.39 457.59L350 457.8L350 627.5L64.5 627.5Z" fill="#ebd43c"/><path d="M64.5 511L68.11 510.55L71.73 510.38L75.34 510.46L78.96 510.73L82.57 511.13L86.18 511.61L89.8 512.13L93.41 512.63L97.03 513.07L100.64 513.38L104.25 513.52L107.87 513.44L111.48 513.09L115.09 512.5L118.71 511.79L122.32 511.08L125.94 510.48L129.55 510.13L133.16 510.11L136.78 510.38L140.39 510.84L144.01 511.38L147.62 511.89L151.23 512.3L154.85 512.56L158.46 512.66L162.08 512.55L165.69 512.21L169.3 511.66L172.92 511L176.53 510.33L180.15 509.73L183.76 509.31L187.37 509.12L190.99 509.11L194.6 509.25L198.22 509.49L201.83 509.78L205.44 510.08L209.06 510.35L212.67 510.59L216.28 510.83L219.9 511.06L223.51 511.31L227.13 511.58L230.74 511.9L234.35 512.24L237.97 512.56L241.58 512.81L245.2 512.95L248.81 512.93L252.42 512.71L256.04 512.29L259.65 511.75L263.27 511.17L266.88 510.64L270.49 510.24L274.11 510.06L277.72 510.13L281.34 510.36L284.95 510.71L288.56 511.09L292.18 511.45L295.79 511.7L299.41 511.81L303.02 511.77L306.63 511.6L310.25 511.34L313.86 511.01L317.47 510.62L321.09 510.2L324.7 509.78L328.32 509.38L331.93 509.05L335.54 508.81L339.16 508.7L342.77 508.74L346.39 508.96L350 509.4L350 627.5L64.5 627.5Z" fill="#db8f3c"/><path d="M64.5 530.6L68.11 530.66L71.73 530.78L75.34 530.94L78.96 531.14L82.57 531.35L86.18 531.56L89.8 531.77L93.41 531.96L97.03 532.11L100.64 532.22L104.25 532.27L107.87 532.24L111.48 532.14L115.09 531.95L118.71 531.73L122.32 531.5L125.94 531.28L129.55 531.12L133.16 531.04L136.78 531.03L140.39 531.05L144.01 531.09L147.62 531.1L151.23 531.08L154.85 531.01L158.46 530.89L162.08 530.72L165.69 530.48L169.3 530.2L172.92 529.91L176.53 529.63L180.15 529.41L183.76 529.27L187.37 529.24L190.99 529.29L194.6 529.41L198.22 529.58L201.83 529.78L205.44 529.99L209.06 530.19L212.67 530.38L216.28 530.56L219.9 530.73L223.51 530.89L227.13 531.05L230.74 531.19L234.35 531.31L237.97 531.42L241.58 531.51L245.2 531.57L248.81 531.6L252.42 531.59L256.04 531.55L259.65 531.48L263.27 531.38L266.88 531.28L270.49 531.17L274.11 531.06L277.72 530.97L281.34 530.88L284.95 530.8L288.56 530.72L292.18 530.66L295.79 530.6L299.41 530.54L303.02 530.48L306.63 530.41L310.25 530.32L313.86 530.21L317.47 530.05L321.09 529.85L324.7 529.63L328.32 529.39L331.93 529.17L335.54 528.98L339.16 528.84L342.77 528.79L346.39 528.83L350 529L350 627.5L64.5 627.5Z" fill="#bb5866"/><path d="M64.5 547.5L68.11 547.4L71.73 547.4L75.34 547.5L78.96 547.67L82.57 547.89L86.18 548.15L89.8 548.43L93.41 548.7L97.03 548.96L100.64 549.17L104.25 549.32L107.87 549.4L111.48 549.38L115.09 549.26L118.71 549.07L122.32 548.83L125.94 548.55L129.55 548.25L133.16 547.96L136.78 547.68L140.39 547.41L144.01 547.15L147.62 546.9L151.23 546.66L154.85 546.43L158.46 546.21L162.08 546L165.69 545.81L169.3 545.65L172.92 545.5L176.53 545.4L180.15 545.32L183.76 545.3L187.37 545.32L190.99 545.38L194.6 545.47L198.22 545.59L201.83 545.73L205.44 545.89L209.06 546.05L212.67 546.22L216.28 546.4L219.9 546.59L223.51 546.8L227.13 547.01L230.74 547.25L234.35 547.48L237.97 547.71L241.58 547.91L245.2 548.07L248.81 548.17L252.42 548.2L256.04 548.15L259.65 548.04L263.27 547.89L266.88 547.73L270.49 547.58L274.11 547.46L277.72 547.38L281.34 547.32L284.95 547.28L288.56 547.24L292.18 547.18L295.79 547.1L299.41 546.98L303.02 546.82L306.63 546.64L310.25 546.43L313.86 546.21L317.47 545.97L321.09 545.73L324.7 545.49L328.32 545.26L331.93 545.07L335.54 544.92L339.16 544.82L342.77 544.8L346.39 544.85L350 545L350 627.5L64.5 627.5Z" fill="#932585"/><path d="M64.5 564.2L68.11 564.22L71.73 564.32L75.34 564.49L78.96 564.71L82.57 564.97L86.18 565.25L89.8 565.54L93.41 565.81L97.03 566.06L100.64 566.27L104.25 566.42L107.87 566.5L111.48 566.48L115.09 566.38L118.71 566.2L122.32 565.96L125.94 565.67L129.55 565.36L133.16 565.03L136.78 564.71L140.39 564.41L144.01 564.14L147.62 563.92L151.23 563.76L154.85 563.65L158.46 563.57L162.08 563.52L165.69 563.48L169.3 563.46L172.92 563.44L176.53 563.44L180.15 563.47L183.76 563.52L187.37 563.59L190.99 563.68L194.6 563.8L198.22 563.92L201.83 564.05L205.44 564.19L209.06 564.33L212.67 564.47L216.28 564.62L219.9 564.79L223.51 564.99L227.13 565.21L230.74 565.46L234.35 565.74L237.97 566.01L241.58 566.24L245.2 566.42L248.81 566.5L252.42 566.48L256.04 566.33L259.65 566.09L263.27 565.79L266.88 565.45L270.49 565.11L274.11 564.79L277.72 564.51L281.34 564.26L284.95 564.05L288.56 563.85L292.18 563.67L295.79 563.5L299.41 563.33L303.02 563.18L306.63 563.05L310.25 562.97L313.86 562.94L317.47 562.98L321.09 563.09L324.7 563.27L328.32 563.48L331.93 563.71L335.54 563.93L339.16 564.12L342.77 564.24L346.39 564.28L350 564.2L350 627.5L64.5 627.5Z" fill="#653592"/><path d="M64.5 588.2L68.11 586.66L71.73 585.78L75.34 585.44L78.96 585.57L82.57 586.07L86.18 586.85L89.8 587.81L93.41 588.86L97.03 589.92L100.64 590.89L104.25 591.67L107.87 592.18L111.48 592.32L115.09 592.1L118.71 591.61L122.32 590.93L125.94 590.18L129.55 589.43L133.16 588.77L136.78 588.24L140.39 587.85L144.01 587.59L147.62 587.47L151.23 587.49L154.85 587.61L158.46 587.81L162.08 588.06L165.69 588.33L169.3 588.59L172.92 588.84L176.53 589.05L180.15 589.22L183.76 589.32L187.37 589.35L190.99 589.32L194.6 589.22L198.22 589.07L201.83 588.87L205.44 588.62L209.06 588.33L212.67 588.02L216.28 587.72L219.9 587.44L223.51 587.21L227.13 587.04L230.74 586.96L234.35 586.98L237.97 587.09L241.58 587.29L245.2 587.57L248.81 587.92L252.42 588.34L256.04 588.8L259.65 589.27L263.27 589.66L266.88 589.94L270.49 590.05L274.11 589.93L277.72 589.57L281.34 589.06L284.95 588.47L288.56 587.87L292.18 587.36L295.79 586.99L299.41 586.84L303.02 586.88L306.63 587.07L310.25 587.36L313.86 587.71L317.47 588.09L321.09 588.46L324.7 588.78L328.32 589.04L331.93 589.24L335.54 589.35L339.16 589.35L342.77 589.24L346.39 588.99L350 588.6L350 627.5L64.5 627.5Z" fill="#3e338c"/>
<path d="M64.5 484.4 L350 430.7" stroke="#5d9f55" stroke-width="1.7" stroke-dasharray="5.5 2.4"/>
<rect x="237.2" y="352.4" width="108" height="20.2" rx="2" fill="#d9d3e8" stroke="#cfc9de" stroke-width="0.8"/>
<path d="M240.9 361.8 H262" stroke="#58a83c" stroke-width="1.8" stroke-dasharray="5.8 2.3"/>
<rect x="64.5" y="347.3" width="285.5" height="280.2" fill="none" stroke="#222" stroke-width="0.9"/>
<!-- colorbar -->
<rect x="367.8" y="347.3" width="14.7" height="46.7" fill="#ebd43c"/>
<rect x="367.8" y="394" width="14.7" height="46.7" fill="#db8f3c"/>
<rect x="367.8" y="440.7" width="14.7" height="46.7" fill="#bb5866"/>
<rect x="367.8" y="487.4" width="14.7" height="46.7" fill="#932585"/>
<rect x="367.8" y="534.1" width="14.7" height="46.7" fill="#653592"/>
<rect x="367.8" y="580.8" width="14.7" height="46.7" fill="#3e338c"/>
<rect x="367.8" y="347.3" width="14.7" height="280.2" fill="none" stroke="#222" stroke-width="0.9"/>
<path d="M91.5 291.18 H95.3 M91.5 255.86 H95.3 M91.5 220.54 H95.3 M91.5 185.22 H95.3 M91.5 149.9 H95.3 M91.5 114.58 H95.3 M91.5 79.26 H95.3 M91.5 43.94 H95.3 M91.5 8.62 H95.3 M126.2 297.8 V301.3 M161.62 297.8 V301.3 M197.04 297.8 V301.3 M232.46 297.8 V301.3 M267.88 297.8 V301.3 M303.3 297.8 V301.3 M338.72 297.8 V301.3 M374.14 297.8 V301.3 M61 627.5 H64.5 M61 556.3 H64.5 M61 485.2 H64.5 M61 414 H64.5 M61 347.3 H64.5 M64.5 627.5 V631 M137.2 627.5 V631 M209.9 627.5 V631 M281.7 627.5 V631 M350.1 627.5 V631 M382.5 347.3 H386 M382.5 394 H386 M382.5 440.7 H386 M382.5 487.4 H386 M382.5 534.1 H386 M382.5 580.8 H386 M382.5 627.5 H386" stroke="#222" stroke-width="0.9"/>
<g font-family="Liberation Sans, sans-serif" fill="#1a1a1a" stroke="#1a1a1a" stroke-width="0.35">
<text x="88.3" y="295.28" font-size="10.2" text-anchor="end" textLength="14.74" lengthAdjust="spacingAndGlyphs">−8</text><text x="88.3" y="259.96" font-size="10.2" text-anchor="end" textLength="14.74" lengthAdjust="spacingAndGlyphs">−6</text><text x="88.3" y="224.64" font-size="10.2" text-anchor="end" textLength="14.74" lengthAdjust="spacingAndGlyphs">−4</text><text x="88.3" y="189.32" font-size="10.2" text-anchor="end" textLength="14.74" lengthAdjust="spacingAndGlyphs">−2</text><text x="88.3" y="154" font-size="10.2" text-anchor="end" textLength="6.36" lengthAdjust="spacingAndGlyphs">0</text><text x="88.3" y="118.68" font-size="10.2" text-anchor="end" textLength="6.36" lengthAdjust="spacingAndGlyphs">2</text><text x="88.3" y="83.36" font-size="10.2" text-anchor="end" textLength="6.36" lengthAdjust="spacingAndGlyphs">4</text><text x="88.3" y="48.04" font-size="10.2" text-anchor="end" textLength="6.36" lengthAdjust="spacingAndGlyphs">6</text><text x="88.3" y="12.72" font-size="10.2" text-anchor="end" textLength="6.36" lengthAdjust="spacingAndGlyphs">8</text><text x="126.2" y="311.9" font-size="10.2" text-anchor="middle" textLength="12.72" lengthAdjust="spacingAndGlyphs">24</text><text x="161.62" y="311.9" font-size="10.2" text-anchor="middle" textLength="12.72" lengthAdjust="spacingAndGlyphs">26</text><text x="197.04" y="311.9" font-size="10.2" text-anchor="middle" textLength="12.72" lengthAdjust="spacingAndGlyphs">28</text><text x="232.46" y="311.9" font-size="10.2" text-anchor="middle" textLength="12.72" lengthAdjust="spacingAndGlyphs">30</text><text x="267.88" y="311.9" font-size="10.2" text-anchor="middle" textLength="12.72" lengthAdjust="spacingAndGlyphs">32</text><text x="303.3" y="311.9" font-size="10.2" text-anchor="middle" textLength="12.72" lengthAdjust="spacingAndGlyphs">34</text><text x="338.72" y="311.9" font-size="10.2" text-anchor="middle" textLength="12.72" lengthAdjust="spacingAndGlyphs">36</text><text x="374.14" y="311.9" font-size="10.2" text-anchor="middle" textLength="12.72" lengthAdjust="spacingAndGlyphs">38</text><text x="57.6" y="631.15" font-size="10.2" text-anchor="end" textLength="6.36" lengthAdjust="spacingAndGlyphs">0</text><text x="57.6" y="559.95" font-size="10.2" text-anchor="end" textLength="15.75" lengthAdjust="spacingAndGlyphs">π/2</text><text x="57.6" y="488.85" font-size="10.2" text-anchor="end" textLength="6.02" lengthAdjust="spacingAndGlyphs">π</text><text x="57.6" y="417.65" font-size="10.2" text-anchor="end" textLength="22.11" lengthAdjust="spacingAndGlyphs">3π/2</text><text x="57.6" y="350.95" font-size="10.2" text-anchor="end" textLength="12.38" lengthAdjust="spacingAndGlyphs">2π</text><text x="64.5" y="642.9" font-size="10.2" text-anchor="middle" textLength="6.36" lengthAdjust="spacingAndGlyphs">0</text><text x="137.2" y="642.9" font-size="10.2" text-anchor="middle" textLength="15.75" lengthAdjust="spacingAndGlyphs">π/2</text><text x="209.9" y="642.9" font-size="10.2" text-anchor="middle" textLength="6.02" lengthAdjust="spacingAndGlyphs">π</text><text x="281.7" y="642.9" font-size="10.2" text-anchor="middle" textLength="22.11" lengthAdjust="spacingAndGlyphs">3π/2</text><text x="350.1" y="642.9" font-size="10.2" text-anchor="middle" textLength="12.38" lengthAdjust="spacingAndGlyphs">2π</text><text x="389.5" y="350.95" font-size="10.2" text-anchor="start" textLength="28.63" lengthAdjust="spacingAndGlyphs">0.160</text><text x="389.5" y="397.65" font-size="10.2" text-anchor="start" textLength="28.63" lengthAdjust="spacingAndGlyphs">0.156</text><text x="389.5" y="444.35" font-size="10.2" text-anchor="start" textLength="28.63" lengthAdjust="spacingAndGlyphs">0.152</text><text x="389.5" y="491.05" font-size="10.2" text-anchor="start" textLength="28.63" lengthAdjust="spacingAndGlyphs">0.148</text><text x="389.5" y="537.75" font-size="10.2" text-anchor="start" textLength="28.63" lengthAdjust="spacingAndGlyphs">0.144</text><text x="389.5" y="584.45" font-size="10.2" text-anchor="start" textLength="28.63" lengthAdjust="spacingAndGlyphs">0.140</text><text x="389.5" y="631.15" font-size="10.2" text-anchor="start" textLength="28.63" lengthAdjust="spacingAndGlyphs">0.136</text><text x="240.2" y="329.3" font-size="14.28" text-anchor="middle" textLength="46.44" lengthAdjust="spacingAndGlyphs">R [cm]</text><text transform="translate(66.2 150) rotate(-90)" font-size="14.28" text-anchor="middle" textLength="46.3" lengthAdjust="spacingAndGlyphs">Z [cm]</text><text x="207.3" y="661.8" font-size="14.28" text-anchor="middle" textLength="125.5" lengthAdjust="spacingAndGlyphs">Boozer Toroidal <tspan font-style="italic">ζ</tspan></text><text transform="translate(26.7 488.8) rotate(-90)" font-size="14.28" text-anchor="middle" textLength="123.5" lengthAdjust="spacingAndGlyphs">Boozer Poloidal <tspan font-style="italic">θ</tspan></text><text transform="translate(431.2 487.8) rotate(-90)" font-size="12.24" text-anchor="middle" textLength="36.83" lengthAdjust="spacingAndGlyphs">|B| [T]</text><text x="270.3" y="366.2" font-size="10.2" text-anchor="start" textLength="70.46" lengthAdjust="spacingAndGlyphs"><tspan font-style="italic">ι</tspan>(0.5) = 0.192</text><g font-size="21.5" font-weight="bold"><text x="38.4" y="16.6">(</text><text x="44.1" y="16.6" textLength="15.6" lengthAdjust="spacingAndGlyphs">A</text><text x="57.5" y="16.6">)</text></g><text x="15.5" y="361.3" font-size="21" font-weight="bold" text-anchor="middle" textLength="29.5" lengthAdjust="spacingAndGlyphs">(B)</text>
</g>
</svg>
</body></html>
